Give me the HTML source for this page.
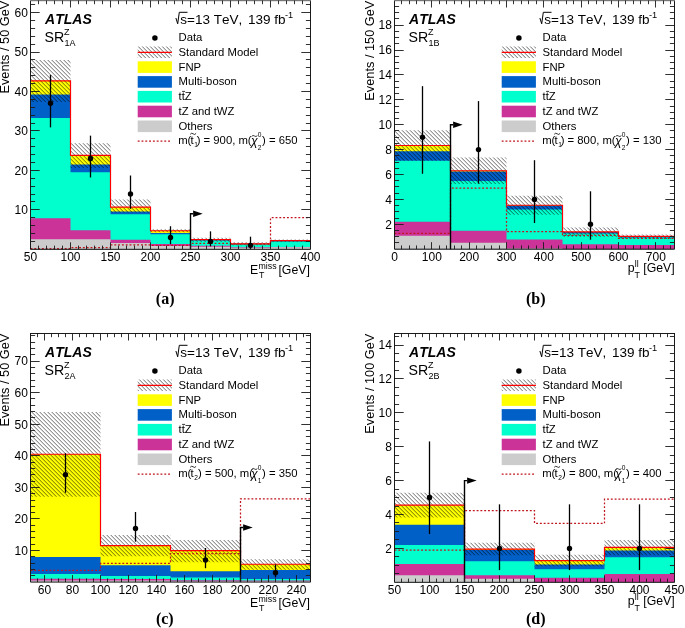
<!DOCTYPE html><html><head><meta charset="utf-8"><style>html,body{margin:0;padding:0;background:#fff}svg{display:block;will-change:transform}text{font-family:"Liberation Sans",sans-serif;fill:#000;font-kerning:none}.cap{font-family:"Liberation Serif",serif;font-weight:bold}</style></head><body>
<svg width="685" height="628" viewBox="0 0 685 628">
<rect width="685" height="628" fill="#fff"/>
<path d="M30.5,249.3 L30.5,80.81 L70.5,80.81 L70.5,155.39 L110.5,155.39 L110.5,207.08 L150.5,207.08 L150.5,230.75 L190.5,230.75 L190.5,239.63 L230.5,239.63 L230.5,243.78 L270.5,243.78 L270.5,240.62 L310.5,240.62 L310.5,249.3 Z" fill="#ffff00"/>
<path d="M30.5,249.3 L30.5,94.62 L70.5,94.62 L70.5,164.46 L110.5,164.46 L110.5,211.42 L150.5,211.42 L150.5,233.12 L190.5,233.12 L190.5,240.03 L230.5,240.03 L230.5,243.97 L270.5,243.97 L270.5,241.01 L310.5,241.01 L310.5,249.3 Z" fill="#0060c8"/>
<path d="M30.5,249.3 L30.5,117.9 L70.5,117.9 L70.5,172.35 L110.5,172.35 L110.5,214.18 L150.5,214.18 L150.5,234.31 L190.5,234.31 L190.5,240.62 L230.5,240.62 L230.5,244.37 L270.5,244.37 L270.5,241.61 L310.5,241.61 L310.5,249.3 Z" fill="#00ffcc"/>
<path d="M30.5,249.3 L30.5,218.32 L70.5,218.32 L70.5,230.36 L110.5,230.36 L110.5,239.63 L150.5,239.63 L150.5,243.97 L190.5,243.97 L190.5,245.75 L230.5,245.75 L230.5,247.13 L270.5,247.13 L270.5,246.93 L310.5,246.93 L310.5,249.3 Z" fill="#cc3399"/>
<path d="M30.5,249.3 L30.5,239.24 L70.5,239.24 L70.5,239.24 L110.5,239.24 L110.5,242.99 L150.5,242.99 L150.5,245.95 L190.5,245.95 L190.5,246.74 L230.5,246.74 L230.5,247.72 L270.5,247.72 L270.5,247.33 L310.5,247.33 L310.5,249.3 Z" fill="#cccccc"/>
<clipPath id="hc1"><rect x="30.5" y="59.89" width="40" height="42.22"/><rect x="70.5" y="143.15" width="40" height="24.86"/><rect x="110.5" y="199.58" width="40" height="13.02"/><rect x="150.5" y="229.18" width="40" height="3.16"/><rect x="190.5" y="237.66" width="40" height="4.14"/><rect x="230.5" y="242.2" width="40" height="3.16"/><rect x="270.5" y="239.44" width="40" height="2.37"/></clipPath>
<g clip-path="url(#hc1)"><path d="M310.59,58.89L311.5,59.8M306.59,58.89L311.5,63.8M302.59,58.89L311.5,67.8M298.59,58.89L311.5,71.8M294.59,58.89L311.5,75.8M290.59,58.89L311.5,79.8M286.59,58.89L311.5,83.8M282.59,58.89L311.5,87.8M278.59,58.89L311.5,91.8M274.59,58.89L311.5,95.8M270.59,58.89L311.5,99.8M266.59,58.89L311.5,103.8M262.59,58.89L311.5,107.8M258.59,58.89L311.5,111.8M254.59,58.89L311.5,115.8M250.59,58.89L311.5,119.8M246.59,58.89L311.5,123.8M242.59,58.89L311.5,127.8M238.59,58.89L311.5,131.8M234.59,58.89L311.5,135.8M230.59,58.89L311.5,139.8M226.59,58.89L311.5,143.8M222.59,58.89L311.5,147.8M218.59,58.89L311.5,151.8M214.59,58.89L311.5,155.8M210.59,58.89L311.5,159.8M206.59,58.89L311.5,163.8M202.59,58.89L311.5,167.8M198.59,58.89L311.5,171.8M194.59,58.89L311.5,175.8M190.59,58.89L311.5,179.8M186.59,58.89L311.5,183.8M182.59,58.89L311.5,187.8M178.59,58.89L311.5,191.8M174.59,58.89L311.5,195.8M170.59,58.89L311.5,199.8M166.59,58.89L311.5,203.8M162.59,58.89L311.5,207.8M158.59,58.89L311.5,211.8M154.59,58.89L311.5,215.8M150.59,58.89L311.5,219.8M146.59,58.89L311.5,223.8M142.59,58.89L311.5,227.8M138.59,58.89L311.5,231.8M134.59,58.89L311.5,235.8M130.59,58.89L311.5,239.8M126.59,58.89L311.5,243.8M122.59,58.89L310.05,246.35M118.59,58.89L306.05,246.35M114.59,58.89L302.05,246.35M110.59,58.89L298.05,246.35M106.59,58.89L294.05,246.35M102.59,58.89L290.05,246.35M98.59,58.89L286.05,246.35M94.59,58.89L282.05,246.35M90.59,58.89L278.05,246.35M86.59,58.89L274.05,246.35M82.59,58.89L270.05,246.35M78.59,58.89L266.05,246.35M74.59,58.89L262.05,246.35M70.59,58.89L258.05,246.35M66.59,58.89L254.05,246.35M62.59,58.89L250.05,246.35M58.59,58.89L246.05,246.35M54.59,58.89L242.05,246.35M50.59,58.89L238.05,246.35M46.59,58.89L234.05,246.35M42.59,58.89L230.05,246.35M38.59,58.89L226.05,246.35M34.59,58.89L222.05,246.35M30.59,58.89L218.05,246.35M29.5,61.8L214.05,246.35M29.5,65.8L210.05,246.35M29.5,69.8L206.05,246.35M29.5,73.8L202.05,246.35M29.5,77.8L198.05,246.35M29.5,81.8L194.05,246.35M29.5,85.8L190.05,246.35M29.5,89.8L186.05,246.35M29.5,93.8L182.05,246.35M29.5,97.8L178.05,246.35M29.5,101.8L174.05,246.35M29.5,105.8L170.05,246.35M29.5,109.8L166.05,246.35M29.5,113.8L162.05,246.35M29.5,117.8L158.05,246.35M29.5,121.8L154.05,246.35M29.5,125.8L150.05,246.35M29.5,129.8L146.05,246.35M29.5,133.8L142.05,246.35M29.5,137.8L138.05,246.35M29.5,141.8L134.05,246.35M29.5,145.8L130.05,246.35M29.5,149.8L126.05,246.35M29.5,153.8L122.05,246.35M29.5,157.8L118.05,246.35M29.5,161.8L114.05,246.35M29.5,165.8L110.05,246.35M29.5,169.8L106.05,246.35M29.5,173.8L102.05,246.35M29.5,177.8L98.05,246.35M29.5,181.8L94.05,246.35M29.5,185.8L90.05,246.35M29.5,189.8L86.05,246.35M29.5,193.8L82.05,246.35M29.5,197.8L78.05,246.35M29.5,201.8L74.05,246.35M29.5,205.8L70.05,246.35M29.5,209.8L66.05,246.35M29.5,213.8L62.05,246.35M29.5,217.8L58.05,246.35M29.5,221.8L54.05,246.35M29.5,225.8L50.05,246.35M29.5,229.8L46.05,246.35M29.5,233.8L42.05,246.35M29.5,237.8L38.05,246.35M29.5,241.8L34.05,246.35M29.5,245.8L30.05,246.35" stroke="#000" stroke-opacity="0.62" stroke-width="0.95" fill="none"/></g>
<path d="M30.5,80.81 L70.5,80.81 L70.5,155.39 L110.5,155.39 L110.5,207.08 L150.5,207.08 L150.5,230.75 L190.5,230.75 L190.5,239.63 L230.5,239.63 L230.5,243.78 L270.5,243.78 L270.5,240.62 L310.5,240.62" fill="none" stroke="#ff0000" stroke-width="1.2"/>
<path d="M30.5,248.51 L70.5,248.51 L70.5,247.72 L110.5,247.72 L110.5,244.96 L150.5,244.96 L150.5,245.35 L190.5,245.35 L190.5,243.38 L230.5,243.38 L230.5,243.78 L270.5,243.78 L270.5,217.73 L310.5,217.73" fill="none" stroke="#c0141e" stroke-width="1.25" stroke-dasharray="1.9,1.9"/>
<path d="M190.5,249.3 L190.5,213.79 L193.1,213.79" fill="none" stroke="#000" stroke-width="1.4"/>
<path d="M193.1,210.59 L202.7,213.79 L193.1,216.99 Z" fill="#000"/>
<line x1="50.5" y1="74.89" x2="50.5" y2="127.37" stroke="#000" stroke-width="1.3"/>
<circle cx="50.5" cy="103.3" r="2.7" fill="#000"/>
<line x1="90.5" y1="135.66" x2="90.5" y2="177.48" stroke="#000" stroke-width="1.3"/>
<circle cx="90.5" cy="158.54" r="2.7" fill="#000"/>
<line x1="130.5" y1="175.51" x2="130.5" y2="208.85" stroke="#000" stroke-width="1.3"/>
<circle cx="130.5" cy="194.06" r="2.7" fill="#000"/>
<line x1="170.5" y1="226.22" x2="170.5" y2="244.17" stroke="#000" stroke-width="1.3"/>
<circle cx="170.5" cy="237.46" r="2.7" fill="#000"/>
<line x1="210.5" y1="231.35" x2="210.5" y2="246.34" stroke="#000" stroke-width="1.3"/>
<circle cx="210.5" cy="241.41" r="2.7" fill="#000"/>
<line x1="250.5" y1="236.67" x2="250.5" y2="249.3" stroke="#000" stroke-width="1.3"/>
<circle cx="250.5" cy="245.35" r="2.7" fill="#000"/>
<path d="M30.5,0 L30.5,249.3 L310.5,249.3" fill="none" stroke="#1a1a1a" stroke-width="1"/>
<path d="M310.5,0 L310.5,249.3" fill="none" stroke="#1a1a1a" stroke-width="1"/>
<rect x="30" y="0" width="281" height="1.2" fill="#777"/>
<line x1="38.5" y1="249.3" x2="38.5" y2="245.6" stroke="#1a1a1a" stroke-width="0.9"/>
<line x1="38.5" y1="0.5" x2="38.5" y2="4.2" stroke="#1a1a1a" stroke-width="0.9"/>
<line x1="46.5" y1="249.3" x2="46.5" y2="245.6" stroke="#1a1a1a" stroke-width="0.9"/>
<line x1="46.5" y1="0.5" x2="46.5" y2="4.2" stroke="#1a1a1a" stroke-width="0.9"/>
<line x1="54.5" y1="249.3" x2="54.5" y2="245.6" stroke="#1a1a1a" stroke-width="0.9"/>
<line x1="54.5" y1="0.5" x2="54.5" y2="4.2" stroke="#1a1a1a" stroke-width="0.9"/>
<line x1="62.5" y1="249.3" x2="62.5" y2="245.6" stroke="#1a1a1a" stroke-width="0.9"/>
<line x1="62.5" y1="0.5" x2="62.5" y2="4.2" stroke="#1a1a1a" stroke-width="0.9"/>
<line x1="70.5" y1="249.3" x2="70.5" y2="242.3" stroke="#1a1a1a" stroke-width="0.9"/>
<line x1="70.5" y1="0.5" x2="70.5" y2="7.5" stroke="#1a1a1a" stroke-width="0.9"/>
<line x1="78.5" y1="249.3" x2="78.5" y2="245.6" stroke="#1a1a1a" stroke-width="0.9"/>
<line x1="78.5" y1="0.5" x2="78.5" y2="4.2" stroke="#1a1a1a" stroke-width="0.9"/>
<line x1="86.5" y1="249.3" x2="86.5" y2="245.6" stroke="#1a1a1a" stroke-width="0.9"/>
<line x1="86.5" y1="0.5" x2="86.5" y2="4.2" stroke="#1a1a1a" stroke-width="0.9"/>
<line x1="94.5" y1="249.3" x2="94.5" y2="245.6" stroke="#1a1a1a" stroke-width="0.9"/>
<line x1="94.5" y1="0.5" x2="94.5" y2="4.2" stroke="#1a1a1a" stroke-width="0.9"/>
<line x1="102.5" y1="249.3" x2="102.5" y2="245.6" stroke="#1a1a1a" stroke-width="0.9"/>
<line x1="102.5" y1="0.5" x2="102.5" y2="4.2" stroke="#1a1a1a" stroke-width="0.9"/>
<line x1="110.5" y1="249.3" x2="110.5" y2="242.3" stroke="#1a1a1a" stroke-width="0.9"/>
<line x1="110.5" y1="0.5" x2="110.5" y2="7.5" stroke="#1a1a1a" stroke-width="0.9"/>
<line x1="118.5" y1="249.3" x2="118.5" y2="245.6" stroke="#1a1a1a" stroke-width="0.9"/>
<line x1="118.5" y1="0.5" x2="118.5" y2="4.2" stroke="#1a1a1a" stroke-width="0.9"/>
<line x1="126.5" y1="249.3" x2="126.5" y2="245.6" stroke="#1a1a1a" stroke-width="0.9"/>
<line x1="126.5" y1="0.5" x2="126.5" y2="4.2" stroke="#1a1a1a" stroke-width="0.9"/>
<line x1="134.5" y1="249.3" x2="134.5" y2="245.6" stroke="#1a1a1a" stroke-width="0.9"/>
<line x1="134.5" y1="0.5" x2="134.5" y2="4.2" stroke="#1a1a1a" stroke-width="0.9"/>
<line x1="142.5" y1="249.3" x2="142.5" y2="245.6" stroke="#1a1a1a" stroke-width="0.9"/>
<line x1="142.5" y1="0.5" x2="142.5" y2="4.2" stroke="#1a1a1a" stroke-width="0.9"/>
<line x1="150.5" y1="249.3" x2="150.5" y2="242.3" stroke="#1a1a1a" stroke-width="0.9"/>
<line x1="150.5" y1="0.5" x2="150.5" y2="7.5" stroke="#1a1a1a" stroke-width="0.9"/>
<line x1="158.5" y1="249.3" x2="158.5" y2="245.6" stroke="#1a1a1a" stroke-width="0.9"/>
<line x1="158.5" y1="0.5" x2="158.5" y2="4.2" stroke="#1a1a1a" stroke-width="0.9"/>
<line x1="166.5" y1="249.3" x2="166.5" y2="245.6" stroke="#1a1a1a" stroke-width="0.9"/>
<line x1="166.5" y1="0.5" x2="166.5" y2="4.2" stroke="#1a1a1a" stroke-width="0.9"/>
<line x1="174.5" y1="249.3" x2="174.5" y2="245.6" stroke="#1a1a1a" stroke-width="0.9"/>
<line x1="174.5" y1="0.5" x2="174.5" y2="4.2" stroke="#1a1a1a" stroke-width="0.9"/>
<line x1="182.5" y1="249.3" x2="182.5" y2="245.6" stroke="#1a1a1a" stroke-width="0.9"/>
<line x1="182.5" y1="0.5" x2="182.5" y2="4.2" stroke="#1a1a1a" stroke-width="0.9"/>
<line x1="190.5" y1="249.3" x2="190.5" y2="242.3" stroke="#1a1a1a" stroke-width="0.9"/>
<line x1="190.5" y1="0.5" x2="190.5" y2="7.5" stroke="#1a1a1a" stroke-width="0.9"/>
<line x1="198.5" y1="249.3" x2="198.5" y2="245.6" stroke="#1a1a1a" stroke-width="0.9"/>
<line x1="198.5" y1="0.5" x2="198.5" y2="4.2" stroke="#1a1a1a" stroke-width="0.9"/>
<line x1="206.5" y1="249.3" x2="206.5" y2="245.6" stroke="#1a1a1a" stroke-width="0.9"/>
<line x1="206.5" y1="0.5" x2="206.5" y2="4.2" stroke="#1a1a1a" stroke-width="0.9"/>
<line x1="214.5" y1="249.3" x2="214.5" y2="245.6" stroke="#1a1a1a" stroke-width="0.9"/>
<line x1="214.5" y1="0.5" x2="214.5" y2="4.2" stroke="#1a1a1a" stroke-width="0.9"/>
<line x1="222.5" y1="249.3" x2="222.5" y2="245.6" stroke="#1a1a1a" stroke-width="0.9"/>
<line x1="222.5" y1="0.5" x2="222.5" y2="4.2" stroke="#1a1a1a" stroke-width="0.9"/>
<line x1="230.5" y1="249.3" x2="230.5" y2="242.3" stroke="#1a1a1a" stroke-width="0.9"/>
<line x1="230.5" y1="0.5" x2="230.5" y2="7.5" stroke="#1a1a1a" stroke-width="0.9"/>
<line x1="238.5" y1="249.3" x2="238.5" y2="245.6" stroke="#1a1a1a" stroke-width="0.9"/>
<line x1="238.5" y1="0.5" x2="238.5" y2="4.2" stroke="#1a1a1a" stroke-width="0.9"/>
<line x1="246.5" y1="249.3" x2="246.5" y2="245.6" stroke="#1a1a1a" stroke-width="0.9"/>
<line x1="246.5" y1="0.5" x2="246.5" y2="4.2" stroke="#1a1a1a" stroke-width="0.9"/>
<line x1="254.5" y1="249.3" x2="254.5" y2="245.6" stroke="#1a1a1a" stroke-width="0.9"/>
<line x1="254.5" y1="0.5" x2="254.5" y2="4.2" stroke="#1a1a1a" stroke-width="0.9"/>
<line x1="262.5" y1="249.3" x2="262.5" y2="245.6" stroke="#1a1a1a" stroke-width="0.9"/>
<line x1="262.5" y1="0.5" x2="262.5" y2="4.2" stroke="#1a1a1a" stroke-width="0.9"/>
<line x1="270.5" y1="249.3" x2="270.5" y2="242.3" stroke="#1a1a1a" stroke-width="0.9"/>
<line x1="270.5" y1="0.5" x2="270.5" y2="7.5" stroke="#1a1a1a" stroke-width="0.9"/>
<line x1="278.5" y1="249.3" x2="278.5" y2="245.6" stroke="#1a1a1a" stroke-width="0.9"/>
<line x1="278.5" y1="0.5" x2="278.5" y2="4.2" stroke="#1a1a1a" stroke-width="0.9"/>
<line x1="286.5" y1="249.3" x2="286.5" y2="245.6" stroke="#1a1a1a" stroke-width="0.9"/>
<line x1="286.5" y1="0.5" x2="286.5" y2="4.2" stroke="#1a1a1a" stroke-width="0.9"/>
<line x1="294.5" y1="249.3" x2="294.5" y2="245.6" stroke="#1a1a1a" stroke-width="0.9"/>
<line x1="294.5" y1="0.5" x2="294.5" y2="4.2" stroke="#1a1a1a" stroke-width="0.9"/>
<line x1="302.5" y1="249.3" x2="302.5" y2="245.6" stroke="#1a1a1a" stroke-width="0.9"/>
<line x1="302.5" y1="0.5" x2="302.5" y2="4.2" stroke="#1a1a1a" stroke-width="0.9"/>
<line x1="30.5" y1="241.5" x2="35.1" y2="241.5" stroke="#1a1a1a" stroke-width="0.9"/>
<line x1="310.5" y1="241.5" x2="305.9" y2="241.5" stroke="#1a1a1a" stroke-width="0.9"/>
<line x1="30.5" y1="233.5" x2="35.1" y2="233.5" stroke="#1a1a1a" stroke-width="0.9"/>
<line x1="310.5" y1="233.5" x2="305.9" y2="233.5" stroke="#1a1a1a" stroke-width="0.9"/>
<line x1="30.5" y1="225.5" x2="35.1" y2="225.5" stroke="#1a1a1a" stroke-width="0.9"/>
<line x1="310.5" y1="225.5" x2="305.9" y2="225.5" stroke="#1a1a1a" stroke-width="0.9"/>
<line x1="30.5" y1="217.5" x2="35.1" y2="217.5" stroke="#1a1a1a" stroke-width="0.9"/>
<line x1="310.5" y1="217.5" x2="305.9" y2="217.5" stroke="#1a1a1a" stroke-width="0.9"/>
<line x1="30.5" y1="209.5" x2="39.7" y2="209.5" stroke="#1a1a1a" stroke-width="0.9"/>
<line x1="310.5" y1="209.5" x2="301.3" y2="209.5" stroke="#1a1a1a" stroke-width="0.9"/>
<line x1="30.5" y1="201.5" x2="35.1" y2="201.5" stroke="#1a1a1a" stroke-width="0.9"/>
<line x1="310.5" y1="201.5" x2="305.9" y2="201.5" stroke="#1a1a1a" stroke-width="0.9"/>
<line x1="30.5" y1="194.5" x2="35.1" y2="194.5" stroke="#1a1a1a" stroke-width="0.9"/>
<line x1="310.5" y1="194.5" x2="305.9" y2="194.5" stroke="#1a1a1a" stroke-width="0.9"/>
<line x1="30.5" y1="186.5" x2="35.1" y2="186.5" stroke="#1a1a1a" stroke-width="0.9"/>
<line x1="310.5" y1="186.5" x2="305.9" y2="186.5" stroke="#1a1a1a" stroke-width="0.9"/>
<line x1="30.5" y1="178.5" x2="35.1" y2="178.5" stroke="#1a1a1a" stroke-width="0.9"/>
<line x1="310.5" y1="178.5" x2="305.9" y2="178.5" stroke="#1a1a1a" stroke-width="0.9"/>
<line x1="30.5" y1="170.5" x2="39.7" y2="170.5" stroke="#1a1a1a" stroke-width="0.9"/>
<line x1="310.5" y1="170.5" x2="301.3" y2="170.5" stroke="#1a1a1a" stroke-width="0.9"/>
<line x1="30.5" y1="162.5" x2="35.1" y2="162.5" stroke="#1a1a1a" stroke-width="0.9"/>
<line x1="310.5" y1="162.5" x2="305.9" y2="162.5" stroke="#1a1a1a" stroke-width="0.9"/>
<line x1="30.5" y1="154.5" x2="35.1" y2="154.5" stroke="#1a1a1a" stroke-width="0.9"/>
<line x1="310.5" y1="154.5" x2="305.9" y2="154.5" stroke="#1a1a1a" stroke-width="0.9"/>
<line x1="30.5" y1="146.5" x2="35.1" y2="146.5" stroke="#1a1a1a" stroke-width="0.9"/>
<line x1="310.5" y1="146.5" x2="305.9" y2="146.5" stroke="#1a1a1a" stroke-width="0.9"/>
<line x1="30.5" y1="138.5" x2="35.1" y2="138.5" stroke="#1a1a1a" stroke-width="0.9"/>
<line x1="310.5" y1="138.5" x2="305.9" y2="138.5" stroke="#1a1a1a" stroke-width="0.9"/>
<line x1="30.5" y1="130.5" x2="39.7" y2="130.5" stroke="#1a1a1a" stroke-width="0.9"/>
<line x1="310.5" y1="130.5" x2="301.3" y2="130.5" stroke="#1a1a1a" stroke-width="0.9"/>
<line x1="30.5" y1="123.5" x2="35.1" y2="123.5" stroke="#1a1a1a" stroke-width="0.9"/>
<line x1="310.5" y1="123.5" x2="305.9" y2="123.5" stroke="#1a1a1a" stroke-width="0.9"/>
<line x1="30.5" y1="115.5" x2="35.1" y2="115.5" stroke="#1a1a1a" stroke-width="0.9"/>
<line x1="310.5" y1="115.5" x2="305.9" y2="115.5" stroke="#1a1a1a" stroke-width="0.9"/>
<line x1="30.5" y1="107.5" x2="35.1" y2="107.5" stroke="#1a1a1a" stroke-width="0.9"/>
<line x1="310.5" y1="107.5" x2="305.9" y2="107.5" stroke="#1a1a1a" stroke-width="0.9"/>
<line x1="30.5" y1="99.5" x2="35.1" y2="99.5" stroke="#1a1a1a" stroke-width="0.9"/>
<line x1="310.5" y1="99.5" x2="305.9" y2="99.5" stroke="#1a1a1a" stroke-width="0.9"/>
<line x1="30.5" y1="91.5" x2="39.7" y2="91.5" stroke="#1a1a1a" stroke-width="0.9"/>
<line x1="310.5" y1="91.5" x2="301.3" y2="91.5" stroke="#1a1a1a" stroke-width="0.9"/>
<line x1="30.5" y1="83.5" x2="35.1" y2="83.5" stroke="#1a1a1a" stroke-width="0.9"/>
<line x1="310.5" y1="83.5" x2="305.9" y2="83.5" stroke="#1a1a1a" stroke-width="0.9"/>
<line x1="30.5" y1="75.5" x2="35.1" y2="75.5" stroke="#1a1a1a" stroke-width="0.9"/>
<line x1="310.5" y1="75.5" x2="305.9" y2="75.5" stroke="#1a1a1a" stroke-width="0.9"/>
<line x1="30.5" y1="67.5" x2="35.1" y2="67.5" stroke="#1a1a1a" stroke-width="0.9"/>
<line x1="310.5" y1="67.5" x2="305.9" y2="67.5" stroke="#1a1a1a" stroke-width="0.9"/>
<line x1="30.5" y1="59.5" x2="35.1" y2="59.5" stroke="#1a1a1a" stroke-width="0.9"/>
<line x1="310.5" y1="59.5" x2="305.9" y2="59.5" stroke="#1a1a1a" stroke-width="0.9"/>
<line x1="30.5" y1="52.5" x2="39.7" y2="52.5" stroke="#1a1a1a" stroke-width="0.9"/>
<line x1="310.5" y1="52.5" x2="301.3" y2="52.5" stroke="#1a1a1a" stroke-width="0.9"/>
<line x1="30.5" y1="44.5" x2="35.1" y2="44.5" stroke="#1a1a1a" stroke-width="0.9"/>
<line x1="310.5" y1="44.5" x2="305.9" y2="44.5" stroke="#1a1a1a" stroke-width="0.9"/>
<line x1="30.5" y1="36.5" x2="35.1" y2="36.5" stroke="#1a1a1a" stroke-width="0.9"/>
<line x1="310.5" y1="36.5" x2="305.9" y2="36.5" stroke="#1a1a1a" stroke-width="0.9"/>
<line x1="30.5" y1="28.5" x2="35.1" y2="28.5" stroke="#1a1a1a" stroke-width="0.9"/>
<line x1="310.5" y1="28.5" x2="305.9" y2="28.5" stroke="#1a1a1a" stroke-width="0.9"/>
<line x1="30.5" y1="20.5" x2="35.1" y2="20.5" stroke="#1a1a1a" stroke-width="0.9"/>
<line x1="310.5" y1="20.5" x2="305.9" y2="20.5" stroke="#1a1a1a" stroke-width="0.9"/>
<line x1="30.5" y1="12.5" x2="39.7" y2="12.5" stroke="#1a1a1a" stroke-width="0.9"/>
<line x1="310.5" y1="12.5" x2="301.3" y2="12.5" stroke="#1a1a1a" stroke-width="0.9"/>
<line x1="30.5" y1="4.5" x2="35.1" y2="4.5" stroke="#1a1a1a" stroke-width="0.9"/>
<line x1="310.5" y1="4.5" x2="305.9" y2="4.5" stroke="#1a1a1a" stroke-width="0.9"/>
<text x="30.5" y="260.9" font-size="12" text-anchor="middle">50</text>
<text x="70.5" y="260.9" font-size="12" text-anchor="middle">100</text>
<text x="110.5" y="260.9" font-size="12" text-anchor="middle">150</text>
<text x="150.5" y="260.9" font-size="12" text-anchor="middle">200</text>
<text x="190.5" y="260.9" font-size="12" text-anchor="middle">250</text>
<text x="230.5" y="260.9" font-size="12" text-anchor="middle">300</text>
<text x="270.5" y="260.9" font-size="12" text-anchor="middle">350</text>
<text x="310.5" y="260.9" font-size="12" text-anchor="middle">400</text>
<text x="27.9" y="214.14" font-size="12" text-anchor="end">10</text>
<text x="27.9" y="174.68" font-size="12" text-anchor="end">20</text>
<text x="27.9" y="135.22" font-size="12" text-anchor="end">30</text>
<text x="27.9" y="95.76" font-size="12" text-anchor="end">40</text>
<text x="27.9" y="56.3" font-size="12" text-anchor="end">50</text>
<text x="27.9" y="16.84" font-size="12" text-anchor="end">60</text>
<text transform="translate(9,0.7) rotate(-90)" font-size="12.75" text-anchor="end">Events / 50 GeV</text>
<text x="249.9" y="274.2" font-size="12.3">E</text>
<text x="258.5" y="268.7" font-size="8.8">miss</text>
<text x="258.9" y="277.9" font-size="8.8">T</text>
<text x="309.9" y="274.2" font-size="12.3" text-anchor="end">[GeV]</text>
<text x="45.1" y="24.2" font-size="14" font-weight="bold" font-style="italic">ATLAS</text>
<text x="44.5" y="41.7" font-size="14.2">SR</text>
<text x="63.9" y="34.8" font-size="9">Z</text>
<text x="64.5" y="46.1" font-size="9">1A</text>
<path d="M175.9,18 L177.7,23.8 L179.3,12.3 L187.5,12.3" fill="none" stroke="#000" stroke-width="1"/>
<text x="180.3" y="24" font-size="13.5">s=13 TeV,</text>
<text x="247.9" y="24" font-size="13.5">139 fb</text>
<text x="284.9" y="18.3" font-size="9.2">-1</text>
<circle cx="154.9" cy="37.9" r="2.75" fill="#000"/>
<text x="178.5" y="41" font-size="11.3">Data</text>
<clipPath id="hc2"><rect x="137.7" y="46.5" width="34.2" height="11.6"/></clipPath>
<g clip-path="url(#hc2)"><path d="M169.2,45.5L172.9,49.2M165.2,45.5L172.9,53.2M161.2,45.5L172.9,57.2M157.2,45.5L170.8,59.1M153.2,45.5L166.8,59.1M149.2,45.5L162.8,59.1M145.2,45.5L158.8,59.1M141.2,45.5L154.8,59.1M137.2,45.5L150.8,59.1M136.7,49L146.8,59.1M136.7,53L142.8,59.1M136.7,57L138.8,59.1" stroke="#000" stroke-opacity="0.62" stroke-width="0.95" fill="none"/></g>
<line x1="137.7" y1="52.3" x2="171.9" y2="52.3" stroke="#ff0000" stroke-width="1.2"/>
<text x="178.5" y="55.7" font-size="11.3">Standard Model</text>
<rect x="137.7" y="61.3" width="34.2" height="11.6" fill="#ffff00"/>
<text x="178.5" y="70.5" font-size="11.3">FNP</text>
<rect x="137.7" y="76.1" width="34.2" height="11.6" fill="#0060c8"/>
<text x="178.5" y="85.3" font-size="11.3">Multi-boson</text>
<rect x="137.7" y="90.9" width="34.2" height="11.6" fill="#00ffcc"/>
<text x="178.5" y="100.1" font-size="11.3">tt<tspan>Z</tspan></text>
<line x1="182.1" y1="91.4" x2="185.1" y2="91.4" stroke="#000" stroke-width="0.8"/>
<rect x="137.7" y="105.7" width="34.2" height="11.6" fill="#cc3399"/>
<text x="178.5" y="114.9" font-size="11.3">tZ and tWZ</text>
<rect x="137.7" y="120.5" width="34.2" height="11.6" fill="#cccccc"/>
<text x="178.5" y="129.7" font-size="11.3">Others</text>
<line x1="137.7" y1="141.1" x2="171.9" y2="141.1" stroke="#c0141e" stroke-width="1.25" stroke-dasharray="1.9,1.9"/>
<text x="178.2" y="144.3" font-size="11.3">m(</text>
<text x="190.4" y="144.3" font-size="11.3">t</text>
<path d="M190.2,134.3 q1.5,-1.9 3,-0.45 t2.9,-0.45" fill="none" stroke="#000" stroke-width="0.8"/>
<text x="194.2" y="147.2" font-size="6.6">1</text>
<text x="196.7" y="144.3" font-size="11.3">) = 900, m(</text>
<text x="251" y="145.2" font-size="12.2" font-style="italic">&#967;</text>
<path d="M251.6,136.4 q1.4,-1.7 2.9,-0.4 t2.9,-0.4" fill="none" stroke="#000" stroke-width="0.75"/>
<text x="257.8" y="137.4" font-size="6.6">0</text>
<text x="257.8" y="149.5" font-size="6.6">2</text>
<text x="262.1" y="144.3" font-size="11.3">) = 650</text>
<path d="M394.5,249.15 L394.5,145.51 L450.5,145.51 L450.5,170.77 L506.5,170.77 L506.5,205.23 L562.5,205.23 L562.5,231.86 L618.5,231.86 L618.5,236.46 L674.5,236.46 L674.5,249.15 Z" fill="#ffff00"/>
<path d="M394.5,249.15 L394.5,151.23 L450.5,151.23 L450.5,171.39 L506.5,171.39 L506.5,205.6 L562.5,205.6 L562.5,232.1 L618.5,232.1 L618.5,236.71 L674.5,236.71 L674.5,249.15 Z" fill="#0060c8"/>
<path d="M394.5,249.15 L394.5,160.81 L450.5,160.81 L450.5,181.09 L506.5,181.09 L506.5,209.46 L562.5,209.46 L562.5,233.6 L618.5,233.6 L618.5,237.58 L674.5,237.58 L674.5,249.15 Z" fill="#00ffcc"/>
<path d="M394.5,249.15 L394.5,221.78 L450.5,221.78 L450.5,230.74 L506.5,230.74 L506.5,239.57 L562.5,239.57 L562.5,244.3 L618.5,244.3 L618.5,244.92 L674.5,244.92 L674.5,249.15 Z" fill="#cc3399"/>
<path d="M394.5,249.15 L394.5,235.84 L450.5,235.84 L450.5,242.68 L506.5,242.68 L506.5,248.53 L562.5,248.53 L562.5,249.15 L618.5,249.15 L618.5,249.15 L674.5,249.15 L674.5,249.15 Z" fill="#cccccc"/>
<clipPath id="hc3"><rect x="394.5" y="130.33" width="56" height="30.48"/><rect x="450.5" y="157.45" width="56" height="26.5"/><rect x="506.5" y="195.77" width="56" height="19.04"/><rect x="562.5" y="227.5" width="56" height="9.21"/><rect x="618.5" y="234.47" width="56" height="4.48"/></clipPath>
<g clip-path="url(#hc3)"><path d="M673.03,129.33L675.5,131.8M669.03,129.33L675.5,135.8M665.03,129.33L675.5,139.8M661.03,129.33L675.5,143.8M657.03,129.33L675.5,147.8M653.03,129.33L675.5,151.8M649.03,129.33L675.5,155.8M645.03,129.33L675.5,159.8M641.03,129.33L675.5,163.8M637.03,129.33L675.5,167.8M633.03,129.33L675.5,171.8M629.03,129.33L675.5,175.8M625.03,129.33L675.5,179.8M621.03,129.33L675.5,183.8M617.03,129.33L675.5,187.8M613.03,129.33L675.5,191.8M609.03,129.33L675.5,195.8M605.03,129.33L675.5,199.8M601.03,129.33L675.5,203.8M597.03,129.33L675.5,207.8M593.03,129.33L675.5,211.8M589.03,129.33L675.5,215.8M585.03,129.33L675.5,219.8M581.03,129.33L675.5,223.8M577.03,129.33L675.5,227.8M573.03,129.33L675.5,231.8M569.03,129.33L675.5,235.8M565.03,129.33L675.5,239.8M561.03,129.33L671.65,239.95M557.03,129.33L667.65,239.95M553.03,129.33L663.65,239.95M549.03,129.33L659.65,239.95M545.03,129.33L655.65,239.95M541.03,129.33L651.65,239.95M537.03,129.33L647.65,239.95M533.03,129.33L643.65,239.95M529.03,129.33L639.65,239.95M525.03,129.33L635.65,239.95M521.03,129.33L631.65,239.95M517.03,129.33L627.65,239.95M513.03,129.33L623.65,239.95M509.03,129.33L619.65,239.95M505.03,129.33L615.65,239.95M501.03,129.33L611.65,239.95M497.03,129.33L607.65,239.95M493.03,129.33L603.65,239.95M489.03,129.33L599.65,239.95M485.03,129.33L595.65,239.95M481.03,129.33L591.65,239.95M477.03,129.33L587.65,239.95M473.03,129.33L583.65,239.95M469.03,129.33L579.65,239.95M465.03,129.33L575.65,239.95M461.03,129.33L571.65,239.95M457.03,129.33L567.65,239.95M453.03,129.33L563.65,239.95M449.03,129.33L559.65,239.95M445.03,129.33L555.65,239.95M441.03,129.33L551.65,239.95M437.03,129.33L547.65,239.95M433.03,129.33L543.65,239.95M429.03,129.33L539.65,239.95M425.03,129.33L535.65,239.95M421.03,129.33L531.65,239.95M417.03,129.33L527.65,239.95M413.03,129.33L523.65,239.95M409.03,129.33L519.65,239.95M405.03,129.33L515.65,239.95M401.03,129.33L511.65,239.95M397.03,129.33L507.65,239.95M393.5,129.8L503.65,239.95M393.5,133.8L499.65,239.95M393.5,137.8L495.65,239.95M393.5,141.8L491.65,239.95M393.5,145.8L487.65,239.95M393.5,149.8L483.65,239.95M393.5,153.8L479.65,239.95M393.5,157.8L475.65,239.95M393.5,161.8L471.65,239.95M393.5,165.8L467.65,239.95M393.5,169.8L463.65,239.95M393.5,173.8L459.65,239.95M393.5,177.8L455.65,239.95M393.5,181.8L451.65,239.95M393.5,185.8L447.65,239.95M393.5,189.8L443.65,239.95M393.5,193.8L439.65,239.95M393.5,197.8L435.65,239.95M393.5,201.8L431.65,239.95M393.5,205.8L427.65,239.95M393.5,209.8L423.65,239.95M393.5,213.8L419.65,239.95M393.5,217.8L415.65,239.95M393.5,221.8L411.65,239.95M393.5,225.8L407.65,239.95M393.5,229.8L403.65,239.95M393.5,233.8L399.65,239.95M393.5,237.8L395.65,239.95" stroke="#000" stroke-opacity="0.62" stroke-width="0.95" fill="none"/></g>
<path d="M394.5,145.51 L450.5,145.51 L450.5,170.77 L506.5,170.77 L506.5,205.23 L562.5,205.23 L562.5,231.86 L618.5,231.86 L618.5,236.46 L674.5,236.46" fill="none" stroke="#ff0000" stroke-width="1.2"/>
<path d="M394.5,233.47 L450.5,233.47 L450.5,188.18 L506.5,188.18 L506.5,231.73 L562.5,231.73 L562.5,235.46 L618.5,235.46 L618.5,238.33 L674.5,238.33" fill="none" stroke="#c0141e" stroke-width="1.25" stroke-dasharray="1.9,1.9"/>
<path d="M450.5,249.15 L450.5,124.73 L453.1,124.73" fill="none" stroke="#000" stroke-width="1.4"/>
<path d="M453.1,121.53 L462.7,124.73 L453.1,127.93 Z" fill="#000"/>
<line x1="422.5" y1="86.16" x2="422.5" y2="173.75" stroke="#000" stroke-width="1.3"/>
<circle cx="422.5" cy="137.17" r="2.7" fill="#000"/>
<line x1="478.5" y1="101.09" x2="478.5" y2="183.58" stroke="#000" stroke-width="1.3"/>
<circle cx="478.5" cy="149.61" r="2.7" fill="#000"/>
<line x1="534.5" y1="160.19" x2="534.5" y2="223.02" stroke="#000" stroke-width="1.3"/>
<circle cx="534.5" cy="199.38" r="2.7" fill="#000"/>
<line x1="590.5" y1="191.29" x2="590.5" y2="239.69" stroke="#000" stroke-width="1.3"/>
<circle cx="590.5" cy="224.27" r="2.7" fill="#000"/>
<path d="M394.5,0 L394.5,249.15 L674.5,249.15" fill="none" stroke="#1a1a1a" stroke-width="1"/>
<path d="M674.5,0 L674.5,249.15" fill="none" stroke="#1a1a1a" stroke-width="1"/>
<rect x="394" y="0" width="281" height="1.2" fill="#777"/>
<line x1="401.5" y1="249.15" x2="401.5" y2="245.45" stroke="#1a1a1a" stroke-width="0.9"/>
<line x1="401.5" y1="0.5" x2="401.5" y2="4.2" stroke="#1a1a1a" stroke-width="0.9"/>
<line x1="409.5" y1="249.15" x2="409.5" y2="245.45" stroke="#1a1a1a" stroke-width="0.9"/>
<line x1="409.5" y1="0.5" x2="409.5" y2="4.2" stroke="#1a1a1a" stroke-width="0.9"/>
<line x1="416.5" y1="249.15" x2="416.5" y2="245.45" stroke="#1a1a1a" stroke-width="0.9"/>
<line x1="416.5" y1="0.5" x2="416.5" y2="4.2" stroke="#1a1a1a" stroke-width="0.9"/>
<line x1="424.5" y1="249.15" x2="424.5" y2="245.45" stroke="#1a1a1a" stroke-width="0.9"/>
<line x1="424.5" y1="0.5" x2="424.5" y2="4.2" stroke="#1a1a1a" stroke-width="0.9"/>
<line x1="431.5" y1="249.15" x2="431.5" y2="242.15" stroke="#1a1a1a" stroke-width="0.9"/>
<line x1="431.5" y1="0.5" x2="431.5" y2="7.5" stroke="#1a1a1a" stroke-width="0.9"/>
<line x1="439.5" y1="249.15" x2="439.5" y2="245.45" stroke="#1a1a1a" stroke-width="0.9"/>
<line x1="439.5" y1="0.5" x2="439.5" y2="4.2" stroke="#1a1a1a" stroke-width="0.9"/>
<line x1="446.5" y1="249.15" x2="446.5" y2="245.45" stroke="#1a1a1a" stroke-width="0.9"/>
<line x1="446.5" y1="0.5" x2="446.5" y2="4.2" stroke="#1a1a1a" stroke-width="0.9"/>
<line x1="454.5" y1="249.15" x2="454.5" y2="245.45" stroke="#1a1a1a" stroke-width="0.9"/>
<line x1="454.5" y1="0.5" x2="454.5" y2="4.2" stroke="#1a1a1a" stroke-width="0.9"/>
<line x1="461.5" y1="249.15" x2="461.5" y2="245.45" stroke="#1a1a1a" stroke-width="0.9"/>
<line x1="461.5" y1="0.5" x2="461.5" y2="4.2" stroke="#1a1a1a" stroke-width="0.9"/>
<line x1="469.5" y1="249.15" x2="469.5" y2="242.15" stroke="#1a1a1a" stroke-width="0.9"/>
<line x1="469.5" y1="0.5" x2="469.5" y2="7.5" stroke="#1a1a1a" stroke-width="0.9"/>
<line x1="476.5" y1="249.15" x2="476.5" y2="245.45" stroke="#1a1a1a" stroke-width="0.9"/>
<line x1="476.5" y1="0.5" x2="476.5" y2="4.2" stroke="#1a1a1a" stroke-width="0.9"/>
<line x1="484.5" y1="249.15" x2="484.5" y2="245.45" stroke="#1a1a1a" stroke-width="0.9"/>
<line x1="484.5" y1="0.5" x2="484.5" y2="4.2" stroke="#1a1a1a" stroke-width="0.9"/>
<line x1="491.5" y1="249.15" x2="491.5" y2="245.45" stroke="#1a1a1a" stroke-width="0.9"/>
<line x1="491.5" y1="0.5" x2="491.5" y2="4.2" stroke="#1a1a1a" stroke-width="0.9"/>
<line x1="499.5" y1="249.15" x2="499.5" y2="245.45" stroke="#1a1a1a" stroke-width="0.9"/>
<line x1="499.5" y1="0.5" x2="499.5" y2="4.2" stroke="#1a1a1a" stroke-width="0.9"/>
<line x1="506.5" y1="249.15" x2="506.5" y2="242.15" stroke="#1a1a1a" stroke-width="0.9"/>
<line x1="506.5" y1="0.5" x2="506.5" y2="7.5" stroke="#1a1a1a" stroke-width="0.9"/>
<line x1="513.5" y1="249.15" x2="513.5" y2="245.45" stroke="#1a1a1a" stroke-width="0.9"/>
<line x1="513.5" y1="0.5" x2="513.5" y2="4.2" stroke="#1a1a1a" stroke-width="0.9"/>
<line x1="521.5" y1="249.15" x2="521.5" y2="245.45" stroke="#1a1a1a" stroke-width="0.9"/>
<line x1="521.5" y1="0.5" x2="521.5" y2="4.2" stroke="#1a1a1a" stroke-width="0.9"/>
<line x1="528.5" y1="249.15" x2="528.5" y2="245.45" stroke="#1a1a1a" stroke-width="0.9"/>
<line x1="528.5" y1="0.5" x2="528.5" y2="4.2" stroke="#1a1a1a" stroke-width="0.9"/>
<line x1="536.5" y1="249.15" x2="536.5" y2="245.45" stroke="#1a1a1a" stroke-width="0.9"/>
<line x1="536.5" y1="0.5" x2="536.5" y2="4.2" stroke="#1a1a1a" stroke-width="0.9"/>
<line x1="543.5" y1="249.15" x2="543.5" y2="242.15" stroke="#1a1a1a" stroke-width="0.9"/>
<line x1="543.5" y1="0.5" x2="543.5" y2="7.5" stroke="#1a1a1a" stroke-width="0.9"/>
<line x1="551.5" y1="249.15" x2="551.5" y2="245.45" stroke="#1a1a1a" stroke-width="0.9"/>
<line x1="551.5" y1="0.5" x2="551.5" y2="4.2" stroke="#1a1a1a" stroke-width="0.9"/>
<line x1="558.5" y1="249.15" x2="558.5" y2="245.45" stroke="#1a1a1a" stroke-width="0.9"/>
<line x1="558.5" y1="0.5" x2="558.5" y2="4.2" stroke="#1a1a1a" stroke-width="0.9"/>
<line x1="566.5" y1="249.15" x2="566.5" y2="245.45" stroke="#1a1a1a" stroke-width="0.9"/>
<line x1="566.5" y1="0.5" x2="566.5" y2="4.2" stroke="#1a1a1a" stroke-width="0.9"/>
<line x1="573.5" y1="249.15" x2="573.5" y2="245.45" stroke="#1a1a1a" stroke-width="0.9"/>
<line x1="573.5" y1="0.5" x2="573.5" y2="4.2" stroke="#1a1a1a" stroke-width="0.9"/>
<line x1="581.5" y1="249.15" x2="581.5" y2="242.15" stroke="#1a1a1a" stroke-width="0.9"/>
<line x1="581.5" y1="0.5" x2="581.5" y2="7.5" stroke="#1a1a1a" stroke-width="0.9"/>
<line x1="588.5" y1="249.15" x2="588.5" y2="245.45" stroke="#1a1a1a" stroke-width="0.9"/>
<line x1="588.5" y1="0.5" x2="588.5" y2="4.2" stroke="#1a1a1a" stroke-width="0.9"/>
<line x1="596.5" y1="249.15" x2="596.5" y2="245.45" stroke="#1a1a1a" stroke-width="0.9"/>
<line x1="596.5" y1="0.5" x2="596.5" y2="4.2" stroke="#1a1a1a" stroke-width="0.9"/>
<line x1="603.5" y1="249.15" x2="603.5" y2="245.45" stroke="#1a1a1a" stroke-width="0.9"/>
<line x1="603.5" y1="0.5" x2="603.5" y2="4.2" stroke="#1a1a1a" stroke-width="0.9"/>
<line x1="611.5" y1="249.15" x2="611.5" y2="245.45" stroke="#1a1a1a" stroke-width="0.9"/>
<line x1="611.5" y1="0.5" x2="611.5" y2="4.2" stroke="#1a1a1a" stroke-width="0.9"/>
<line x1="618.5" y1="249.15" x2="618.5" y2="242.15" stroke="#1a1a1a" stroke-width="0.9"/>
<line x1="618.5" y1="0.5" x2="618.5" y2="7.5" stroke="#1a1a1a" stroke-width="0.9"/>
<line x1="625.5" y1="249.15" x2="625.5" y2="245.45" stroke="#1a1a1a" stroke-width="0.9"/>
<line x1="625.5" y1="0.5" x2="625.5" y2="4.2" stroke="#1a1a1a" stroke-width="0.9"/>
<line x1="633.5" y1="249.15" x2="633.5" y2="245.45" stroke="#1a1a1a" stroke-width="0.9"/>
<line x1="633.5" y1="0.5" x2="633.5" y2="4.2" stroke="#1a1a1a" stroke-width="0.9"/>
<line x1="640.5" y1="249.15" x2="640.5" y2="245.45" stroke="#1a1a1a" stroke-width="0.9"/>
<line x1="640.5" y1="0.5" x2="640.5" y2="4.2" stroke="#1a1a1a" stroke-width="0.9"/>
<line x1="648.5" y1="249.15" x2="648.5" y2="245.45" stroke="#1a1a1a" stroke-width="0.9"/>
<line x1="648.5" y1="0.5" x2="648.5" y2="4.2" stroke="#1a1a1a" stroke-width="0.9"/>
<line x1="655.5" y1="249.15" x2="655.5" y2="242.15" stroke="#1a1a1a" stroke-width="0.9"/>
<line x1="655.5" y1="0.5" x2="655.5" y2="7.5" stroke="#1a1a1a" stroke-width="0.9"/>
<line x1="663.5" y1="249.15" x2="663.5" y2="245.45" stroke="#1a1a1a" stroke-width="0.9"/>
<line x1="663.5" y1="0.5" x2="663.5" y2="4.2" stroke="#1a1a1a" stroke-width="0.9"/>
<line x1="670.5" y1="249.15" x2="670.5" y2="245.45" stroke="#1a1a1a" stroke-width="0.9"/>
<line x1="670.5" y1="0.5" x2="670.5" y2="4.2" stroke="#1a1a1a" stroke-width="0.9"/>
<line x1="394.5" y1="242.5" x2="399.1" y2="242.5" stroke="#1a1a1a" stroke-width="0.9"/>
<line x1="674.5" y1="242.5" x2="669.9" y2="242.5" stroke="#1a1a1a" stroke-width="0.9"/>
<line x1="394.5" y1="236.5" x2="399.1" y2="236.5" stroke="#1a1a1a" stroke-width="0.9"/>
<line x1="674.5" y1="236.5" x2="669.9" y2="236.5" stroke="#1a1a1a" stroke-width="0.9"/>
<line x1="394.5" y1="230.5" x2="399.1" y2="230.5" stroke="#1a1a1a" stroke-width="0.9"/>
<line x1="674.5" y1="230.5" x2="669.9" y2="230.5" stroke="#1a1a1a" stroke-width="0.9"/>
<line x1="394.5" y1="224.5" x2="403.7" y2="224.5" stroke="#1a1a1a" stroke-width="0.9"/>
<line x1="674.5" y1="224.5" x2="665.3" y2="224.5" stroke="#1a1a1a" stroke-width="0.9"/>
<line x1="394.5" y1="218.5" x2="399.1" y2="218.5" stroke="#1a1a1a" stroke-width="0.9"/>
<line x1="674.5" y1="218.5" x2="669.9" y2="218.5" stroke="#1a1a1a" stroke-width="0.9"/>
<line x1="394.5" y1="211.5" x2="399.1" y2="211.5" stroke="#1a1a1a" stroke-width="0.9"/>
<line x1="674.5" y1="211.5" x2="669.9" y2="211.5" stroke="#1a1a1a" stroke-width="0.9"/>
<line x1="394.5" y1="205.5" x2="399.1" y2="205.5" stroke="#1a1a1a" stroke-width="0.9"/>
<line x1="674.5" y1="205.5" x2="669.9" y2="205.5" stroke="#1a1a1a" stroke-width="0.9"/>
<line x1="394.5" y1="199.5" x2="403.7" y2="199.5" stroke="#1a1a1a" stroke-width="0.9"/>
<line x1="674.5" y1="199.5" x2="665.3" y2="199.5" stroke="#1a1a1a" stroke-width="0.9"/>
<line x1="394.5" y1="193.5" x2="399.1" y2="193.5" stroke="#1a1a1a" stroke-width="0.9"/>
<line x1="674.5" y1="193.5" x2="669.9" y2="193.5" stroke="#1a1a1a" stroke-width="0.9"/>
<line x1="394.5" y1="186.5" x2="399.1" y2="186.5" stroke="#1a1a1a" stroke-width="0.9"/>
<line x1="674.5" y1="186.5" x2="669.9" y2="186.5" stroke="#1a1a1a" stroke-width="0.9"/>
<line x1="394.5" y1="180.5" x2="399.1" y2="180.5" stroke="#1a1a1a" stroke-width="0.9"/>
<line x1="674.5" y1="180.5" x2="669.9" y2="180.5" stroke="#1a1a1a" stroke-width="0.9"/>
<line x1="394.5" y1="174.5" x2="403.7" y2="174.5" stroke="#1a1a1a" stroke-width="0.9"/>
<line x1="674.5" y1="174.5" x2="665.3" y2="174.5" stroke="#1a1a1a" stroke-width="0.9"/>
<line x1="394.5" y1="168.5" x2="399.1" y2="168.5" stroke="#1a1a1a" stroke-width="0.9"/>
<line x1="674.5" y1="168.5" x2="669.9" y2="168.5" stroke="#1a1a1a" stroke-width="0.9"/>
<line x1="394.5" y1="162.5" x2="399.1" y2="162.5" stroke="#1a1a1a" stroke-width="0.9"/>
<line x1="674.5" y1="162.5" x2="669.9" y2="162.5" stroke="#1a1a1a" stroke-width="0.9"/>
<line x1="394.5" y1="155.5" x2="399.1" y2="155.5" stroke="#1a1a1a" stroke-width="0.9"/>
<line x1="674.5" y1="155.5" x2="669.9" y2="155.5" stroke="#1a1a1a" stroke-width="0.9"/>
<line x1="394.5" y1="149.5" x2="403.7" y2="149.5" stroke="#1a1a1a" stroke-width="0.9"/>
<line x1="674.5" y1="149.5" x2="665.3" y2="149.5" stroke="#1a1a1a" stroke-width="0.9"/>
<line x1="394.5" y1="143.5" x2="399.1" y2="143.5" stroke="#1a1a1a" stroke-width="0.9"/>
<line x1="674.5" y1="143.5" x2="669.9" y2="143.5" stroke="#1a1a1a" stroke-width="0.9"/>
<line x1="394.5" y1="137.5" x2="399.1" y2="137.5" stroke="#1a1a1a" stroke-width="0.9"/>
<line x1="674.5" y1="137.5" x2="669.9" y2="137.5" stroke="#1a1a1a" stroke-width="0.9"/>
<line x1="394.5" y1="130.5" x2="399.1" y2="130.5" stroke="#1a1a1a" stroke-width="0.9"/>
<line x1="674.5" y1="130.5" x2="669.9" y2="130.5" stroke="#1a1a1a" stroke-width="0.9"/>
<line x1="394.5" y1="124.5" x2="403.7" y2="124.5" stroke="#1a1a1a" stroke-width="0.9"/>
<line x1="674.5" y1="124.5" x2="665.3" y2="124.5" stroke="#1a1a1a" stroke-width="0.9"/>
<line x1="394.5" y1="118.5" x2="399.1" y2="118.5" stroke="#1a1a1a" stroke-width="0.9"/>
<line x1="674.5" y1="118.5" x2="669.9" y2="118.5" stroke="#1a1a1a" stroke-width="0.9"/>
<line x1="394.5" y1="112.5" x2="399.1" y2="112.5" stroke="#1a1a1a" stroke-width="0.9"/>
<line x1="674.5" y1="112.5" x2="669.9" y2="112.5" stroke="#1a1a1a" stroke-width="0.9"/>
<line x1="394.5" y1="106.5" x2="399.1" y2="106.5" stroke="#1a1a1a" stroke-width="0.9"/>
<line x1="674.5" y1="106.5" x2="669.9" y2="106.5" stroke="#1a1a1a" stroke-width="0.9"/>
<line x1="394.5" y1="99.5" x2="403.7" y2="99.5" stroke="#1a1a1a" stroke-width="0.9"/>
<line x1="674.5" y1="99.5" x2="665.3" y2="99.5" stroke="#1a1a1a" stroke-width="0.9"/>
<line x1="394.5" y1="93.5" x2="399.1" y2="93.5" stroke="#1a1a1a" stroke-width="0.9"/>
<line x1="674.5" y1="93.5" x2="669.9" y2="93.5" stroke="#1a1a1a" stroke-width="0.9"/>
<line x1="394.5" y1="87.5" x2="399.1" y2="87.5" stroke="#1a1a1a" stroke-width="0.9"/>
<line x1="674.5" y1="87.5" x2="669.9" y2="87.5" stroke="#1a1a1a" stroke-width="0.9"/>
<line x1="394.5" y1="81.5" x2="399.1" y2="81.5" stroke="#1a1a1a" stroke-width="0.9"/>
<line x1="674.5" y1="81.5" x2="669.9" y2="81.5" stroke="#1a1a1a" stroke-width="0.9"/>
<line x1="394.5" y1="74.5" x2="403.7" y2="74.5" stroke="#1a1a1a" stroke-width="0.9"/>
<line x1="674.5" y1="74.5" x2="665.3" y2="74.5" stroke="#1a1a1a" stroke-width="0.9"/>
<line x1="394.5" y1="68.5" x2="399.1" y2="68.5" stroke="#1a1a1a" stroke-width="0.9"/>
<line x1="674.5" y1="68.5" x2="669.9" y2="68.5" stroke="#1a1a1a" stroke-width="0.9"/>
<line x1="394.5" y1="62.5" x2="399.1" y2="62.5" stroke="#1a1a1a" stroke-width="0.9"/>
<line x1="674.5" y1="62.5" x2="669.9" y2="62.5" stroke="#1a1a1a" stroke-width="0.9"/>
<line x1="394.5" y1="56.5" x2="399.1" y2="56.5" stroke="#1a1a1a" stroke-width="0.9"/>
<line x1="674.5" y1="56.5" x2="669.9" y2="56.5" stroke="#1a1a1a" stroke-width="0.9"/>
<line x1="394.5" y1="50.5" x2="403.7" y2="50.5" stroke="#1a1a1a" stroke-width="0.9"/>
<line x1="674.5" y1="50.5" x2="665.3" y2="50.5" stroke="#1a1a1a" stroke-width="0.9"/>
<line x1="394.5" y1="43.5" x2="399.1" y2="43.5" stroke="#1a1a1a" stroke-width="0.9"/>
<line x1="674.5" y1="43.5" x2="669.9" y2="43.5" stroke="#1a1a1a" stroke-width="0.9"/>
<line x1="394.5" y1="37.5" x2="399.1" y2="37.5" stroke="#1a1a1a" stroke-width="0.9"/>
<line x1="674.5" y1="37.5" x2="669.9" y2="37.5" stroke="#1a1a1a" stroke-width="0.9"/>
<line x1="394.5" y1="31.5" x2="399.1" y2="31.5" stroke="#1a1a1a" stroke-width="0.9"/>
<line x1="674.5" y1="31.5" x2="669.9" y2="31.5" stroke="#1a1a1a" stroke-width="0.9"/>
<line x1="394.5" y1="25.5" x2="403.7" y2="25.5" stroke="#1a1a1a" stroke-width="0.9"/>
<line x1="674.5" y1="25.5" x2="665.3" y2="25.5" stroke="#1a1a1a" stroke-width="0.9"/>
<line x1="394.5" y1="18.5" x2="399.1" y2="18.5" stroke="#1a1a1a" stroke-width="0.9"/>
<line x1="674.5" y1="18.5" x2="669.9" y2="18.5" stroke="#1a1a1a" stroke-width="0.9"/>
<line x1="394.5" y1="12.5" x2="399.1" y2="12.5" stroke="#1a1a1a" stroke-width="0.9"/>
<line x1="674.5" y1="12.5" x2="669.9" y2="12.5" stroke="#1a1a1a" stroke-width="0.9"/>
<line x1="394.5" y1="6.5" x2="399.1" y2="6.5" stroke="#1a1a1a" stroke-width="0.9"/>
<line x1="674.5" y1="6.5" x2="669.9" y2="6.5" stroke="#1a1a1a" stroke-width="0.9"/>
<text x="394.5" y="260.75" font-size="12" text-anchor="middle">0</text>
<text x="431.83" y="260.75" font-size="12" text-anchor="middle">100</text>
<text x="469.17" y="260.75" font-size="12" text-anchor="middle">200</text>
<text x="506.5" y="260.75" font-size="12" text-anchor="middle">300</text>
<text x="543.83" y="260.75" font-size="12" text-anchor="middle">400</text>
<text x="581.17" y="260.75" font-size="12" text-anchor="middle">500</text>
<text x="618.5" y="260.75" font-size="12" text-anchor="middle">600</text>
<text x="655.83" y="260.75" font-size="12" text-anchor="middle">700</text>
<text x="391.9" y="228.57" font-size="12" text-anchor="end">2</text>
<text x="391.9" y="203.68" font-size="12" text-anchor="end">4</text>
<text x="391.9" y="178.8" font-size="12" text-anchor="end">6</text>
<text x="391.9" y="153.91" font-size="12" text-anchor="end">8</text>
<text x="391.9" y="129.03" font-size="12" text-anchor="end">10</text>
<text x="391.9" y="104.15" font-size="12" text-anchor="end">12</text>
<text x="391.9" y="79.26" font-size="12" text-anchor="end">14</text>
<text x="391.9" y="54.38" font-size="12" text-anchor="end">16</text>
<text x="391.9" y="29.49" font-size="12" text-anchor="end">18</text>
<text transform="translate(373.5,0.7) rotate(-90)" font-size="12.75" text-anchor="end">Events / 150 GeV</text>
<text x="627.7" y="271.75" font-size="12.3">p</text>
<text x="634.7" y="267.35" font-size="8.8">ll</text>
<text x="634.5" y="277.55" font-size="8.8">T</text>
<text x="674.7" y="271.75" font-size="12.3" text-anchor="end">[GeV]</text>
<text x="409.1" y="24.2" font-size="14" font-weight="bold" font-style="italic">ATLAS</text>
<text x="408.5" y="41.7" font-size="14.2">SR</text>
<text x="427.9" y="34.8" font-size="9">Z</text>
<text x="428.5" y="46.1" font-size="9">1B</text>
<path d="M539.9,18 L541.7,23.8 L543.3,12.3 L551.5,12.3" fill="none" stroke="#000" stroke-width="1"/>
<text x="544.3" y="24" font-size="13.5">s=13 TeV,</text>
<text x="611.9" y="24" font-size="13.5">139 fb</text>
<text x="648.9" y="18.3" font-size="9.2">-1</text>
<circle cx="518.9" cy="37.9" r="2.75" fill="#000"/>
<text x="542.5" y="41" font-size="11.3">Data</text>
<clipPath id="hc4"><rect x="501.7" y="46.5" width="34.2" height="11.6"/></clipPath>
<g clip-path="url(#hc4)"><path d="M533.2,45.5L536.9,49.2M529.2,45.5L536.9,53.2M525.2,45.5L536.9,57.2M521.2,45.5L534.8,59.1M517.2,45.5L530.8,59.1M513.2,45.5L526.8,59.1M509.2,45.5L522.8,59.1M505.2,45.5L518.8,59.1M501.2,45.5L514.8,59.1M500.7,49L510.8,59.1M500.7,53L506.8,59.1M500.7,57L502.8,59.1" stroke="#000" stroke-opacity="0.62" stroke-width="0.95" fill="none"/></g>
<line x1="501.7" y1="52.3" x2="535.9" y2="52.3" stroke="#ff0000" stroke-width="1.2"/>
<text x="542.5" y="55.7" font-size="11.3">Standard Model</text>
<rect x="501.7" y="61.3" width="34.2" height="11.6" fill="#ffff00"/>
<text x="542.5" y="70.5" font-size="11.3">FNP</text>
<rect x="501.7" y="76.1" width="34.2" height="11.6" fill="#0060c8"/>
<text x="542.5" y="85.3" font-size="11.3">Multi-boson</text>
<rect x="501.7" y="90.9" width="34.2" height="11.6" fill="#00ffcc"/>
<text x="542.5" y="100.1" font-size="11.3">tt<tspan>Z</tspan></text>
<line x1="546.1" y1="91.4" x2="549.1" y2="91.4" stroke="#000" stroke-width="0.8"/>
<rect x="501.7" y="105.7" width="34.2" height="11.6" fill="#cc3399"/>
<text x="542.5" y="114.9" font-size="11.3">tZ and tWZ</text>
<rect x="501.7" y="120.5" width="34.2" height="11.6" fill="#cccccc"/>
<text x="542.5" y="129.7" font-size="11.3">Others</text>
<line x1="501.7" y1="141.1" x2="535.9" y2="141.1" stroke="#c0141e" stroke-width="1.25" stroke-dasharray="1.9,1.9"/>
<text x="542.2" y="144.3" font-size="11.3">m(</text>
<text x="554.4" y="144.3" font-size="11.3">t</text>
<path d="M554.2,134.3 q1.5,-1.9 3,-0.45 t2.9,-0.45" fill="none" stroke="#000" stroke-width="0.8"/>
<text x="558.2" y="147.2" font-size="6.6">1</text>
<text x="560.7" y="144.3" font-size="11.3">) = 800, m(</text>
<text x="615" y="145.2" font-size="12.2" font-style="italic">&#967;</text>
<path d="M615.6,136.4 q1.4,-1.7 2.9,-0.4 t2.9,-0.4" fill="none" stroke="#000" stroke-width="0.75"/>
<text x="621.8" y="137.4" font-size="6.6">0</text>
<text x="621.8" y="149.5" font-size="6.6">2</text>
<text x="626.1" y="144.3" font-size="11.3">) = 130</text>
<path d="M30.5,582.1 L30.5,454.24 L100.5,454.24 L100.5,545.64 L170.5,545.64 L170.5,550.53 L240.5,550.53 L240.5,564.26 L310.5,564.26 L310.5,582.1 Z" fill="#ffff00"/>
<path d="M30.5,582.1 L30.5,557 L100.5,557 L100.5,565.21 L170.5,565.21 L170.5,571.37 L240.5,571.37 L240.5,570.1 L310.5,570.1 L310.5,582.1 Z" fill="#0060c8"/>
<path d="M30.5,582.1 L30.5,573.99 L100.5,573.99 L100.5,576.1 L170.5,576.1 L170.5,577.52 L240.5,577.52 L240.5,578.94 L310.5,578.94 L310.5,582.1 Z" fill="#00ffcc"/>
<path d="M30.5,582.1 L30.5,578.79 L100.5,578.79 L100.5,578.94 L170.5,578.94 L170.5,580.21 L240.5,580.21 L240.5,580.52 L310.5,580.52 L310.5,582.1 Z" fill="#cc3399"/>
<path d="M30.5,582.1 L30.5,580.58 L100.5,580.58 L100.5,580.52 L170.5,580.52 L170.5,581.15 L240.5,581.15 L240.5,581.15 L310.5,581.15 L310.5,582.1 Z" fill="#cccccc"/>
<clipPath id="hc5"><rect x="30.5" y="411.94" width="70" height="84.92"/><rect x="100.5" y="535.06" width="70" height="21.15"/><rect x="170.5" y="540.11" width="70" height="22.26"/><rect x="240.5" y="559.37" width="70" height="10.42"/></clipPath>
<g clip-path="url(#hc5)"><path d="M310.64,410.94L311.5,411.8M306.64,410.94L311.5,415.8M302.64,410.94L311.5,419.8M298.64,410.94L311.5,423.8M294.64,410.94L311.5,427.8M290.64,410.94L311.5,431.8M286.64,410.94L311.5,435.8M282.64,410.94L311.5,439.8M278.64,410.94L311.5,443.8M274.64,410.94L311.5,447.8M270.64,410.94L311.5,451.8M266.64,410.94L311.5,455.8M262.64,410.94L311.5,459.8M258.64,410.94L311.5,463.8M254.64,410.94L311.5,467.8M250.64,410.94L311.5,471.8M246.64,410.94L311.5,475.8M242.64,410.94L311.5,479.8M238.64,410.94L311.5,483.8M234.64,410.94L311.5,487.8M230.64,410.94L311.5,491.8M226.64,410.94L311.5,495.8M222.64,410.94L311.5,499.8M218.64,410.94L311.5,503.8M214.64,410.94L311.5,507.8M210.64,410.94L311.5,511.8M206.64,410.94L311.5,515.8M202.64,410.94L311.5,519.8M198.64,410.94L311.5,523.8M194.64,410.94L311.5,527.8M190.64,410.94L311.5,531.8M186.64,410.94L311.5,535.8M182.64,410.94L311.5,539.8M178.64,410.94L311.5,543.8M174.64,410.94L311.5,547.8M170.64,410.94L311.5,551.8M166.64,410.94L311.5,555.8M162.64,410.94L311.5,559.8M158.64,410.94L311.5,563.8M154.64,410.94L311.5,567.8M150.64,410.94L310.49,570.79M146.64,410.94L306.49,570.79M142.64,410.94L302.49,570.79M138.64,410.94L298.49,570.79M134.64,410.94L294.49,570.79M130.64,410.94L290.49,570.79M126.64,410.94L286.49,570.79M122.64,410.94L282.49,570.79M118.64,410.94L278.49,570.79M114.64,410.94L274.49,570.79M110.64,410.94L270.49,570.79M106.64,410.94L266.49,570.79M102.64,410.94L262.49,570.79M98.64,410.94L258.49,570.79M94.64,410.94L254.49,570.79M90.64,410.94L250.49,570.79M86.64,410.94L246.49,570.79M82.64,410.94L242.49,570.79M78.64,410.94L238.49,570.79M74.64,410.94L234.49,570.79M70.64,410.94L230.49,570.79M66.64,410.94L226.49,570.79M62.64,410.94L222.49,570.79M58.64,410.94L218.49,570.79M54.64,410.94L214.49,570.79M50.64,410.94L210.49,570.79M46.64,410.94L206.49,570.79M42.64,410.94L202.49,570.79M38.64,410.94L198.49,570.79M34.64,410.94L194.49,570.79M30.64,410.94L190.49,570.79M29.5,413.8L186.49,570.79M29.5,417.8L182.49,570.79M29.5,421.8L178.49,570.79M29.5,425.8L174.49,570.79M29.5,429.8L170.49,570.79M29.5,433.8L166.49,570.79M29.5,437.8L162.49,570.79M29.5,441.8L158.49,570.79M29.5,445.8L154.49,570.79M29.5,449.8L150.49,570.79M29.5,453.8L146.49,570.79M29.5,457.8L142.49,570.79M29.5,461.8L138.49,570.79M29.5,465.8L134.49,570.79M29.5,469.8L130.49,570.79M29.5,473.8L126.49,570.79M29.5,477.8L122.49,570.79M29.5,481.8L118.49,570.79M29.5,485.8L114.49,570.79M29.5,489.8L110.49,570.79M29.5,493.8L106.49,570.79M29.5,497.8L102.49,570.79M29.5,501.8L98.49,570.79M29.5,505.8L94.49,570.79M29.5,509.8L90.49,570.79M29.5,513.8L86.49,570.79M29.5,517.8L82.49,570.79M29.5,521.8L78.49,570.79M29.5,525.8L74.49,570.79M29.5,529.8L70.49,570.79M29.5,533.8L66.49,570.79M29.5,537.8L62.49,570.79M29.5,541.8L58.49,570.79M29.5,545.8L54.49,570.79M29.5,549.8L50.49,570.79M29.5,553.8L46.49,570.79M29.5,557.8L42.49,570.79M29.5,561.8L38.49,570.79M29.5,565.8L34.49,570.79M29.5,569.8L30.49,570.79" stroke="#000" stroke-opacity="0.62" stroke-width="0.95" fill="none"/></g>
<path d="M30.5,454.24 L100.5,454.24 L100.5,545.64 L170.5,545.64 L170.5,550.53 L240.5,550.53 L240.5,564.26 L310.5,564.26" fill="none" stroke="#ff0000" stroke-width="1.2"/>
<path d="M30.5,570.42 L100.5,570.42 L100.5,563.47 L170.5,563.47 L170.5,553.53 L240.5,553.53 L240.5,498.76 L310.5,498.76" fill="none" stroke="#c0141e" stroke-width="1.25" stroke-dasharray="1.9,1.9"/>
<path d="M240.5,582.1 L240.5,527.48 L243.1,527.48" fill="none" stroke="#000" stroke-width="1.4"/>
<path d="M243.1,524.28 L252.7,527.48 L243.1,530.68 Z" fill="#000"/>
<line x1="65.5" y1="453.29" x2="65.5" y2="492.76" stroke="#000" stroke-width="1.3"/>
<circle cx="65.5" cy="474.76" r="2.7" fill="#000"/>
<line x1="135.5" y1="512.01" x2="135.5" y2="541.69" stroke="#000" stroke-width="1.3"/>
<circle cx="135.5" cy="528.43" r="2.7" fill="#000"/>
<line x1="205.5" y1="548" x2="205.5" y2="568.21" stroke="#000" stroke-width="1.3"/>
<circle cx="205.5" cy="560" r="2.7" fill="#000"/>
<line x1="275.5" y1="564.42" x2="275.5" y2="577.36" stroke="#000" stroke-width="1.3"/>
<circle cx="275.5" cy="572.63" r="2.7" fill="#000"/>
<path d="M30.5,333 L30.5,582.1 L310.5,582.1" fill="none" stroke="#1a1a1a" stroke-width="1"/>
<path d="M310.5,333 L310.5,582.1" fill="none" stroke="#1a1a1a" stroke-width="1"/>
<line x1="30" y1="333.5" x2="311" y2="333.5" stroke="#1a1a1a" stroke-width="1"/>
<line x1="37.5" y1="582.1" x2="37.5" y2="578.4" stroke="#1a1a1a" stroke-width="0.9"/>
<line x1="37.5" y1="333.5" x2="37.5" y2="337.2" stroke="#1a1a1a" stroke-width="0.9"/>
<line x1="44.5" y1="582.1" x2="44.5" y2="575.1" stroke="#1a1a1a" stroke-width="0.9"/>
<line x1="44.5" y1="333.5" x2="44.5" y2="340.5" stroke="#1a1a1a" stroke-width="0.9"/>
<line x1="51.5" y1="582.1" x2="51.5" y2="578.4" stroke="#1a1a1a" stroke-width="0.9"/>
<line x1="51.5" y1="333.5" x2="51.5" y2="337.2" stroke="#1a1a1a" stroke-width="0.9"/>
<line x1="58.5" y1="582.1" x2="58.5" y2="578.4" stroke="#1a1a1a" stroke-width="0.9"/>
<line x1="58.5" y1="333.5" x2="58.5" y2="337.2" stroke="#1a1a1a" stroke-width="0.9"/>
<line x1="65.5" y1="582.1" x2="65.5" y2="578.4" stroke="#1a1a1a" stroke-width="0.9"/>
<line x1="65.5" y1="333.5" x2="65.5" y2="337.2" stroke="#1a1a1a" stroke-width="0.9"/>
<line x1="72.5" y1="582.1" x2="72.5" y2="575.1" stroke="#1a1a1a" stroke-width="0.9"/>
<line x1="72.5" y1="333.5" x2="72.5" y2="340.5" stroke="#1a1a1a" stroke-width="0.9"/>
<line x1="79.5" y1="582.1" x2="79.5" y2="578.4" stroke="#1a1a1a" stroke-width="0.9"/>
<line x1="79.5" y1="333.5" x2="79.5" y2="337.2" stroke="#1a1a1a" stroke-width="0.9"/>
<line x1="86.5" y1="582.1" x2="86.5" y2="578.4" stroke="#1a1a1a" stroke-width="0.9"/>
<line x1="86.5" y1="333.5" x2="86.5" y2="337.2" stroke="#1a1a1a" stroke-width="0.9"/>
<line x1="93.5" y1="582.1" x2="93.5" y2="578.4" stroke="#1a1a1a" stroke-width="0.9"/>
<line x1="93.5" y1="333.5" x2="93.5" y2="337.2" stroke="#1a1a1a" stroke-width="0.9"/>
<line x1="100.5" y1="582.1" x2="100.5" y2="575.1" stroke="#1a1a1a" stroke-width="0.9"/>
<line x1="100.5" y1="333.5" x2="100.5" y2="340.5" stroke="#1a1a1a" stroke-width="0.9"/>
<line x1="107.5" y1="582.1" x2="107.5" y2="578.4" stroke="#1a1a1a" stroke-width="0.9"/>
<line x1="107.5" y1="333.5" x2="107.5" y2="337.2" stroke="#1a1a1a" stroke-width="0.9"/>
<line x1="114.5" y1="582.1" x2="114.5" y2="578.4" stroke="#1a1a1a" stroke-width="0.9"/>
<line x1="114.5" y1="333.5" x2="114.5" y2="337.2" stroke="#1a1a1a" stroke-width="0.9"/>
<line x1="121.5" y1="582.1" x2="121.5" y2="578.4" stroke="#1a1a1a" stroke-width="0.9"/>
<line x1="121.5" y1="333.5" x2="121.5" y2="337.2" stroke="#1a1a1a" stroke-width="0.9"/>
<line x1="128.5" y1="582.1" x2="128.5" y2="575.1" stroke="#1a1a1a" stroke-width="0.9"/>
<line x1="128.5" y1="333.5" x2="128.5" y2="340.5" stroke="#1a1a1a" stroke-width="0.9"/>
<line x1="135.5" y1="582.1" x2="135.5" y2="578.4" stroke="#1a1a1a" stroke-width="0.9"/>
<line x1="135.5" y1="333.5" x2="135.5" y2="337.2" stroke="#1a1a1a" stroke-width="0.9"/>
<line x1="142.5" y1="582.1" x2="142.5" y2="578.4" stroke="#1a1a1a" stroke-width="0.9"/>
<line x1="142.5" y1="333.5" x2="142.5" y2="337.2" stroke="#1a1a1a" stroke-width="0.9"/>
<line x1="149.5" y1="582.1" x2="149.5" y2="578.4" stroke="#1a1a1a" stroke-width="0.9"/>
<line x1="149.5" y1="333.5" x2="149.5" y2="337.2" stroke="#1a1a1a" stroke-width="0.9"/>
<line x1="156.5" y1="582.1" x2="156.5" y2="575.1" stroke="#1a1a1a" stroke-width="0.9"/>
<line x1="156.5" y1="333.5" x2="156.5" y2="340.5" stroke="#1a1a1a" stroke-width="0.9"/>
<line x1="163.5" y1="582.1" x2="163.5" y2="578.4" stroke="#1a1a1a" stroke-width="0.9"/>
<line x1="163.5" y1="333.5" x2="163.5" y2="337.2" stroke="#1a1a1a" stroke-width="0.9"/>
<line x1="170.5" y1="582.1" x2="170.5" y2="578.4" stroke="#1a1a1a" stroke-width="0.9"/>
<line x1="170.5" y1="333.5" x2="170.5" y2="337.2" stroke="#1a1a1a" stroke-width="0.9"/>
<line x1="177.5" y1="582.1" x2="177.5" y2="578.4" stroke="#1a1a1a" stroke-width="0.9"/>
<line x1="177.5" y1="333.5" x2="177.5" y2="337.2" stroke="#1a1a1a" stroke-width="0.9"/>
<line x1="184.5" y1="582.1" x2="184.5" y2="575.1" stroke="#1a1a1a" stroke-width="0.9"/>
<line x1="184.5" y1="333.5" x2="184.5" y2="340.5" stroke="#1a1a1a" stroke-width="0.9"/>
<line x1="191.5" y1="582.1" x2="191.5" y2="578.4" stroke="#1a1a1a" stroke-width="0.9"/>
<line x1="191.5" y1="333.5" x2="191.5" y2="337.2" stroke="#1a1a1a" stroke-width="0.9"/>
<line x1="198.5" y1="582.1" x2="198.5" y2="578.4" stroke="#1a1a1a" stroke-width="0.9"/>
<line x1="198.5" y1="333.5" x2="198.5" y2="337.2" stroke="#1a1a1a" stroke-width="0.9"/>
<line x1="205.5" y1="582.1" x2="205.5" y2="578.4" stroke="#1a1a1a" stroke-width="0.9"/>
<line x1="205.5" y1="333.5" x2="205.5" y2="337.2" stroke="#1a1a1a" stroke-width="0.9"/>
<line x1="212.5" y1="582.1" x2="212.5" y2="575.1" stroke="#1a1a1a" stroke-width="0.9"/>
<line x1="212.5" y1="333.5" x2="212.5" y2="340.5" stroke="#1a1a1a" stroke-width="0.9"/>
<line x1="219.5" y1="582.1" x2="219.5" y2="578.4" stroke="#1a1a1a" stroke-width="0.9"/>
<line x1="219.5" y1="333.5" x2="219.5" y2="337.2" stroke="#1a1a1a" stroke-width="0.9"/>
<line x1="226.5" y1="582.1" x2="226.5" y2="578.4" stroke="#1a1a1a" stroke-width="0.9"/>
<line x1="226.5" y1="333.5" x2="226.5" y2="337.2" stroke="#1a1a1a" stroke-width="0.9"/>
<line x1="233.5" y1="582.1" x2="233.5" y2="578.4" stroke="#1a1a1a" stroke-width="0.9"/>
<line x1="233.5" y1="333.5" x2="233.5" y2="337.2" stroke="#1a1a1a" stroke-width="0.9"/>
<line x1="240.5" y1="582.1" x2="240.5" y2="575.1" stroke="#1a1a1a" stroke-width="0.9"/>
<line x1="240.5" y1="333.5" x2="240.5" y2="340.5" stroke="#1a1a1a" stroke-width="0.9"/>
<line x1="247.5" y1="582.1" x2="247.5" y2="578.4" stroke="#1a1a1a" stroke-width="0.9"/>
<line x1="247.5" y1="333.5" x2="247.5" y2="337.2" stroke="#1a1a1a" stroke-width="0.9"/>
<line x1="254.5" y1="582.1" x2="254.5" y2="578.4" stroke="#1a1a1a" stroke-width="0.9"/>
<line x1="254.5" y1="333.5" x2="254.5" y2="337.2" stroke="#1a1a1a" stroke-width="0.9"/>
<line x1="261.5" y1="582.1" x2="261.5" y2="578.4" stroke="#1a1a1a" stroke-width="0.9"/>
<line x1="261.5" y1="333.5" x2="261.5" y2="337.2" stroke="#1a1a1a" stroke-width="0.9"/>
<line x1="268.5" y1="582.1" x2="268.5" y2="575.1" stroke="#1a1a1a" stroke-width="0.9"/>
<line x1="268.5" y1="333.5" x2="268.5" y2="340.5" stroke="#1a1a1a" stroke-width="0.9"/>
<line x1="275.5" y1="582.1" x2="275.5" y2="578.4" stroke="#1a1a1a" stroke-width="0.9"/>
<line x1="275.5" y1="333.5" x2="275.5" y2="337.2" stroke="#1a1a1a" stroke-width="0.9"/>
<line x1="282.5" y1="582.1" x2="282.5" y2="578.4" stroke="#1a1a1a" stroke-width="0.9"/>
<line x1="282.5" y1="333.5" x2="282.5" y2="337.2" stroke="#1a1a1a" stroke-width="0.9"/>
<line x1="289.5" y1="582.1" x2="289.5" y2="578.4" stroke="#1a1a1a" stroke-width="0.9"/>
<line x1="289.5" y1="333.5" x2="289.5" y2="337.2" stroke="#1a1a1a" stroke-width="0.9"/>
<line x1="296.5" y1="582.1" x2="296.5" y2="575.1" stroke="#1a1a1a" stroke-width="0.9"/>
<line x1="296.5" y1="333.5" x2="296.5" y2="340.5" stroke="#1a1a1a" stroke-width="0.9"/>
<line x1="303.5" y1="582.1" x2="303.5" y2="578.4" stroke="#1a1a1a" stroke-width="0.9"/>
<line x1="303.5" y1="333.5" x2="303.5" y2="337.2" stroke="#1a1a1a" stroke-width="0.9"/>
<line x1="30.5" y1="575.5" x2="35.1" y2="575.5" stroke="#1a1a1a" stroke-width="0.9"/>
<line x1="310.5" y1="575.5" x2="305.9" y2="575.5" stroke="#1a1a1a" stroke-width="0.9"/>
<line x1="30.5" y1="569.5" x2="35.1" y2="569.5" stroke="#1a1a1a" stroke-width="0.9"/>
<line x1="310.5" y1="569.5" x2="305.9" y2="569.5" stroke="#1a1a1a" stroke-width="0.9"/>
<line x1="30.5" y1="563.5" x2="35.1" y2="563.5" stroke="#1a1a1a" stroke-width="0.9"/>
<line x1="310.5" y1="563.5" x2="305.9" y2="563.5" stroke="#1a1a1a" stroke-width="0.9"/>
<line x1="30.5" y1="556.5" x2="35.1" y2="556.5" stroke="#1a1a1a" stroke-width="0.9"/>
<line x1="310.5" y1="556.5" x2="305.9" y2="556.5" stroke="#1a1a1a" stroke-width="0.9"/>
<line x1="30.5" y1="550.5" x2="39.7" y2="550.5" stroke="#1a1a1a" stroke-width="0.9"/>
<line x1="310.5" y1="550.5" x2="301.3" y2="550.5" stroke="#1a1a1a" stroke-width="0.9"/>
<line x1="30.5" y1="544.5" x2="35.1" y2="544.5" stroke="#1a1a1a" stroke-width="0.9"/>
<line x1="310.5" y1="544.5" x2="305.9" y2="544.5" stroke="#1a1a1a" stroke-width="0.9"/>
<line x1="30.5" y1="537.5" x2="35.1" y2="537.5" stroke="#1a1a1a" stroke-width="0.9"/>
<line x1="310.5" y1="537.5" x2="305.9" y2="537.5" stroke="#1a1a1a" stroke-width="0.9"/>
<line x1="30.5" y1="531.5" x2="35.1" y2="531.5" stroke="#1a1a1a" stroke-width="0.9"/>
<line x1="310.5" y1="531.5" x2="305.9" y2="531.5" stroke="#1a1a1a" stroke-width="0.9"/>
<line x1="30.5" y1="525.5" x2="35.1" y2="525.5" stroke="#1a1a1a" stroke-width="0.9"/>
<line x1="310.5" y1="525.5" x2="305.9" y2="525.5" stroke="#1a1a1a" stroke-width="0.9"/>
<line x1="30.5" y1="518.5" x2="39.7" y2="518.5" stroke="#1a1a1a" stroke-width="0.9"/>
<line x1="310.5" y1="518.5" x2="301.3" y2="518.5" stroke="#1a1a1a" stroke-width="0.9"/>
<line x1="30.5" y1="512.5" x2="35.1" y2="512.5" stroke="#1a1a1a" stroke-width="0.9"/>
<line x1="310.5" y1="512.5" x2="305.9" y2="512.5" stroke="#1a1a1a" stroke-width="0.9"/>
<line x1="30.5" y1="506.5" x2="35.1" y2="506.5" stroke="#1a1a1a" stroke-width="0.9"/>
<line x1="310.5" y1="506.5" x2="305.9" y2="506.5" stroke="#1a1a1a" stroke-width="0.9"/>
<line x1="30.5" y1="500.5" x2="35.1" y2="500.5" stroke="#1a1a1a" stroke-width="0.9"/>
<line x1="310.5" y1="500.5" x2="305.9" y2="500.5" stroke="#1a1a1a" stroke-width="0.9"/>
<line x1="30.5" y1="493.5" x2="35.1" y2="493.5" stroke="#1a1a1a" stroke-width="0.9"/>
<line x1="310.5" y1="493.5" x2="305.9" y2="493.5" stroke="#1a1a1a" stroke-width="0.9"/>
<line x1="30.5" y1="487.5" x2="39.7" y2="487.5" stroke="#1a1a1a" stroke-width="0.9"/>
<line x1="310.5" y1="487.5" x2="301.3" y2="487.5" stroke="#1a1a1a" stroke-width="0.9"/>
<line x1="30.5" y1="481.5" x2="35.1" y2="481.5" stroke="#1a1a1a" stroke-width="0.9"/>
<line x1="310.5" y1="481.5" x2="305.9" y2="481.5" stroke="#1a1a1a" stroke-width="0.9"/>
<line x1="30.5" y1="474.5" x2="35.1" y2="474.5" stroke="#1a1a1a" stroke-width="0.9"/>
<line x1="310.5" y1="474.5" x2="305.9" y2="474.5" stroke="#1a1a1a" stroke-width="0.9"/>
<line x1="30.5" y1="468.5" x2="35.1" y2="468.5" stroke="#1a1a1a" stroke-width="0.9"/>
<line x1="310.5" y1="468.5" x2="305.9" y2="468.5" stroke="#1a1a1a" stroke-width="0.9"/>
<line x1="30.5" y1="462.5" x2="35.1" y2="462.5" stroke="#1a1a1a" stroke-width="0.9"/>
<line x1="310.5" y1="462.5" x2="305.9" y2="462.5" stroke="#1a1a1a" stroke-width="0.9"/>
<line x1="30.5" y1="455.5" x2="39.7" y2="455.5" stroke="#1a1a1a" stroke-width="0.9"/>
<line x1="310.5" y1="455.5" x2="301.3" y2="455.5" stroke="#1a1a1a" stroke-width="0.9"/>
<line x1="30.5" y1="449.5" x2="35.1" y2="449.5" stroke="#1a1a1a" stroke-width="0.9"/>
<line x1="310.5" y1="449.5" x2="305.9" y2="449.5" stroke="#1a1a1a" stroke-width="0.9"/>
<line x1="30.5" y1="443.5" x2="35.1" y2="443.5" stroke="#1a1a1a" stroke-width="0.9"/>
<line x1="310.5" y1="443.5" x2="305.9" y2="443.5" stroke="#1a1a1a" stroke-width="0.9"/>
<line x1="30.5" y1="436.5" x2="35.1" y2="436.5" stroke="#1a1a1a" stroke-width="0.9"/>
<line x1="310.5" y1="436.5" x2="305.9" y2="436.5" stroke="#1a1a1a" stroke-width="0.9"/>
<line x1="30.5" y1="430.5" x2="35.1" y2="430.5" stroke="#1a1a1a" stroke-width="0.9"/>
<line x1="310.5" y1="430.5" x2="305.9" y2="430.5" stroke="#1a1a1a" stroke-width="0.9"/>
<line x1="30.5" y1="424.5" x2="39.7" y2="424.5" stroke="#1a1a1a" stroke-width="0.9"/>
<line x1="310.5" y1="424.5" x2="301.3" y2="424.5" stroke="#1a1a1a" stroke-width="0.9"/>
<line x1="30.5" y1="417.5" x2="35.1" y2="417.5" stroke="#1a1a1a" stroke-width="0.9"/>
<line x1="310.5" y1="417.5" x2="305.9" y2="417.5" stroke="#1a1a1a" stroke-width="0.9"/>
<line x1="30.5" y1="411.5" x2="35.1" y2="411.5" stroke="#1a1a1a" stroke-width="0.9"/>
<line x1="310.5" y1="411.5" x2="305.9" y2="411.5" stroke="#1a1a1a" stroke-width="0.9"/>
<line x1="30.5" y1="405.5" x2="35.1" y2="405.5" stroke="#1a1a1a" stroke-width="0.9"/>
<line x1="310.5" y1="405.5" x2="305.9" y2="405.5" stroke="#1a1a1a" stroke-width="0.9"/>
<line x1="30.5" y1="398.5" x2="35.1" y2="398.5" stroke="#1a1a1a" stroke-width="0.9"/>
<line x1="310.5" y1="398.5" x2="305.9" y2="398.5" stroke="#1a1a1a" stroke-width="0.9"/>
<line x1="30.5" y1="392.5" x2="39.7" y2="392.5" stroke="#1a1a1a" stroke-width="0.9"/>
<line x1="310.5" y1="392.5" x2="301.3" y2="392.5" stroke="#1a1a1a" stroke-width="0.9"/>
<line x1="30.5" y1="386.5" x2="35.1" y2="386.5" stroke="#1a1a1a" stroke-width="0.9"/>
<line x1="310.5" y1="386.5" x2="305.9" y2="386.5" stroke="#1a1a1a" stroke-width="0.9"/>
<line x1="30.5" y1="380.5" x2="35.1" y2="380.5" stroke="#1a1a1a" stroke-width="0.9"/>
<line x1="310.5" y1="380.5" x2="305.9" y2="380.5" stroke="#1a1a1a" stroke-width="0.9"/>
<line x1="30.5" y1="373.5" x2="35.1" y2="373.5" stroke="#1a1a1a" stroke-width="0.9"/>
<line x1="310.5" y1="373.5" x2="305.9" y2="373.5" stroke="#1a1a1a" stroke-width="0.9"/>
<line x1="30.5" y1="367.5" x2="35.1" y2="367.5" stroke="#1a1a1a" stroke-width="0.9"/>
<line x1="310.5" y1="367.5" x2="305.9" y2="367.5" stroke="#1a1a1a" stroke-width="0.9"/>
<line x1="30.5" y1="361.5" x2="39.7" y2="361.5" stroke="#1a1a1a" stroke-width="0.9"/>
<line x1="310.5" y1="361.5" x2="301.3" y2="361.5" stroke="#1a1a1a" stroke-width="0.9"/>
<line x1="30.5" y1="354.5" x2="35.1" y2="354.5" stroke="#1a1a1a" stroke-width="0.9"/>
<line x1="310.5" y1="354.5" x2="305.9" y2="354.5" stroke="#1a1a1a" stroke-width="0.9"/>
<line x1="30.5" y1="348.5" x2="35.1" y2="348.5" stroke="#1a1a1a" stroke-width="0.9"/>
<line x1="310.5" y1="348.5" x2="305.9" y2="348.5" stroke="#1a1a1a" stroke-width="0.9"/>
<line x1="30.5" y1="342.5" x2="35.1" y2="342.5" stroke="#1a1a1a" stroke-width="0.9"/>
<line x1="310.5" y1="342.5" x2="305.9" y2="342.5" stroke="#1a1a1a" stroke-width="0.9"/>
<line x1="30.5" y1="335.5" x2="35.1" y2="335.5" stroke="#1a1a1a" stroke-width="0.9"/>
<line x1="310.5" y1="335.5" x2="305.9" y2="335.5" stroke="#1a1a1a" stroke-width="0.9"/>
<text x="44.5" y="593.7" font-size="12" text-anchor="middle">60</text>
<text x="72.5" y="593.7" font-size="12" text-anchor="middle">80</text>
<text x="100.5" y="593.7" font-size="12" text-anchor="middle">100</text>
<text x="128.5" y="593.7" font-size="12" text-anchor="middle">120</text>
<text x="156.5" y="593.7" font-size="12" text-anchor="middle">140</text>
<text x="184.5" y="593.7" font-size="12" text-anchor="middle">160</text>
<text x="212.5" y="593.7" font-size="12" text-anchor="middle">180</text>
<text x="240.5" y="593.7" font-size="12" text-anchor="middle">200</text>
<text x="268.5" y="593.7" font-size="12" text-anchor="middle">220</text>
<text x="296.5" y="593.7" font-size="12" text-anchor="middle">240</text>
<text x="27.9" y="554.83" font-size="12" text-anchor="end">10</text>
<text x="27.9" y="523.26" font-size="12" text-anchor="end">20</text>
<text x="27.9" y="491.69" font-size="12" text-anchor="end">30</text>
<text x="27.9" y="460.12" font-size="12" text-anchor="end">40</text>
<text x="27.9" y="428.55" font-size="12" text-anchor="end">50</text>
<text x="27.9" y="396.98" font-size="12" text-anchor="end">60</text>
<text x="27.9" y="365.41" font-size="12" text-anchor="end">70</text>
<text transform="translate(9,333.7) rotate(-90)" font-size="12.75" text-anchor="end">Events / 50 GeV</text>
<text x="249.9" y="607.4" font-size="12.3">E</text>
<text x="258.5" y="601.9" font-size="8.8">miss</text>
<text x="258.9" y="611.1" font-size="8.8">T</text>
<text x="309.9" y="607.4" font-size="12.3" text-anchor="end">[GeV]</text>
<text x="45.1" y="357.2" font-size="14" font-weight="bold" font-style="italic">ATLAS</text>
<text x="44.5" y="374.7" font-size="14.2">SR</text>
<text x="63.9" y="367.8" font-size="9">Z</text>
<text x="64.5" y="379.1" font-size="9">2A</text>
<path d="M175.9,351 L177.7,356.8 L179.3,345.3 L187.5,345.3" fill="none" stroke="#000" stroke-width="1"/>
<text x="180.3" y="357" font-size="13.5">s=13 TeV,</text>
<text x="247.9" y="357" font-size="13.5">139 fb</text>
<text x="284.9" y="351.3" font-size="9.2">-1</text>
<circle cx="154.9" cy="370.9" r="2.75" fill="#000"/>
<text x="178.5" y="374" font-size="11.3">Data</text>
<clipPath id="hc6"><rect x="137.7" y="379.5" width="34.2" height="11.6"/></clipPath>
<g clip-path="url(#hc6)"><path d="M170.2,378.5L172.9,381.2M166.2,378.5L172.9,385.2M162.2,378.5L172.9,389.2M158.2,378.5L171.8,392.1M154.2,378.5L167.8,392.1M150.2,378.5L163.8,392.1M146.2,378.5L159.8,392.1M142.2,378.5L155.8,392.1M138.2,378.5L151.8,392.1M136.7,381L147.8,392.1M136.7,385L143.8,392.1M136.7,389L139.8,392.1" stroke="#000" stroke-opacity="0.62" stroke-width="0.95" fill="none"/></g>
<line x1="137.7" y1="385.3" x2="171.9" y2="385.3" stroke="#ff0000" stroke-width="1.2"/>
<text x="178.5" y="388.7" font-size="11.3">Standard Model</text>
<rect x="137.7" y="394.3" width="34.2" height="11.6" fill="#ffff00"/>
<text x="178.5" y="403.5" font-size="11.3">FNP</text>
<rect x="137.7" y="409.1" width="34.2" height="11.6" fill="#0060c8"/>
<text x="178.5" y="418.3" font-size="11.3">Multi-boson</text>
<rect x="137.7" y="423.9" width="34.2" height="11.6" fill="#00ffcc"/>
<text x="178.5" y="433.1" font-size="11.3">tt<tspan>Z</tspan></text>
<line x1="182.1" y1="424.4" x2="185.1" y2="424.4" stroke="#000" stroke-width="0.8"/>
<rect x="137.7" y="438.7" width="34.2" height="11.6" fill="#cc3399"/>
<text x="178.5" y="447.9" font-size="11.3">tZ and tWZ</text>
<rect x="137.7" y="453.5" width="34.2" height="11.6" fill="#cccccc"/>
<text x="178.5" y="462.7" font-size="11.3">Others</text>
<line x1="137.7" y1="474.1" x2="171.9" y2="474.1" stroke="#c0141e" stroke-width="1.25" stroke-dasharray="1.9,1.9"/>
<text x="178.2" y="477.3" font-size="11.3">m(</text>
<text x="190.4" y="477.3" font-size="11.3">t</text>
<path d="M190.2,467.3 q1.5,-1.9 3,-0.45 t2.9,-0.45" fill="none" stroke="#000" stroke-width="0.8"/>
<text x="194.2" y="480.2" font-size="6.6">2</text>
<text x="198" y="477.3" font-size="11.3">) = 500, m(</text>
<text x="251" y="478.2" font-size="12.2" font-style="italic">&#967;</text>
<path d="M251.6,469.4 q1.4,-1.7 2.9,-0.4 t2.9,-0.4" fill="none" stroke="#000" stroke-width="0.75"/>
<text x="257.8" y="470.4" font-size="6.6">0</text>
<text x="257.8" y="482.5" font-size="6.6">1</text>
<text x="262.1" y="477.3" font-size="11.3">) = 350</text>
<path d="M394.5,582.3 L394.5,505.18 L464.5,505.18 L464.5,549.08 L534.5,549.08 L534.5,560.6 L604.5,560.6 L604.5,547.38 L674.5,547.38 L674.5,582.3 Z" fill="#ffff00"/>
<path d="M394.5,582.3 L394.5,524.67 L464.5,524.67 L464.5,550.09 L534.5,550.09 L534.5,564.5 L604.5,564.5 L604.5,550.6 L674.5,550.6 L674.5,582.3 Z" fill="#0060c8"/>
<path d="M394.5,582.3 L394.5,545.01 L464.5,545.01 L464.5,561.28 L534.5,561.28 L534.5,569.25 L604.5,569.25 L604.5,557.21 L674.5,557.21 L674.5,582.3 Z" fill="#00ffcc"/>
<path d="M394.5,582.3 L394.5,563.99 L464.5,563.99 L464.5,575.18 L534.5,575.18 L534.5,577.72 L604.5,577.72 L604.5,573.99 L674.5,573.99 L674.5,582.3 Z" fill="#cc3399"/>
<path d="M394.5,582.3 L394.5,575.35 L464.5,575.35 L464.5,578.74 L534.5,578.74 L534.5,582.3 L604.5,582.3 L604.5,582.3 L674.5,582.3 L674.5,582.3 Z" fill="#cccccc"/>
<clipPath id="hc7"><rect x="394.5" y="492.8" width="70" height="24.58"/><rect x="464.5" y="542.64" width="70" height="12.54"/><rect x="534.5" y="554.84" width="70" height="11.36"/><rect x="604.5" y="540.09" width="70" height="15.09"/></clipPath>
<g clip-path="url(#hc7)"><path d="M671.5,491.8L675.5,495.8M667.5,491.8L675.5,499.8M663.5,491.8L675.5,503.8M659.5,491.8L675.5,507.8M655.5,491.8L675.5,511.8M651.5,491.8L675.5,515.8M647.5,491.8L675.5,519.8M643.5,491.8L675.5,523.8M639.5,491.8L675.5,527.8M635.5,491.8L675.5,531.8M631.5,491.8L675.5,535.8M627.5,491.8L675.5,539.8M623.5,491.8L675.5,543.8M619.5,491.8L675.5,547.8M615.5,491.8L675.5,551.8M611.5,491.8L675.5,555.8M607.5,491.8L675.5,559.8M603.5,491.8L675.5,563.8M599.5,491.8L674.9,567.2M595.5,491.8L670.9,567.2M591.5,491.8L666.9,567.2M587.5,491.8L662.9,567.2M583.5,491.8L658.9,567.2M579.5,491.8L654.9,567.2M575.5,491.8L650.9,567.2M571.5,491.8L646.9,567.2M567.5,491.8L642.9,567.2M563.5,491.8L638.9,567.2M559.5,491.8L634.9,567.2M555.5,491.8L630.9,567.2M551.5,491.8L626.9,567.2M547.5,491.8L622.9,567.2M543.5,491.8L618.9,567.2M539.5,491.8L614.9,567.2M535.5,491.8L610.9,567.2M531.5,491.8L606.9,567.2M527.5,491.8L602.9,567.2M523.5,491.8L598.9,567.2M519.5,491.8L594.9,567.2M515.5,491.8L590.9,567.2M511.5,491.8L586.9,567.2M507.5,491.8L582.9,567.2M503.5,491.8L578.9,567.2M499.5,491.8L574.9,567.2M495.5,491.8L570.9,567.2M491.5,491.8L566.9,567.2M487.5,491.8L562.9,567.2M483.5,491.8L558.9,567.2M479.5,491.8L554.9,567.2M475.5,491.8L550.9,567.2M471.5,491.8L546.9,567.2M467.5,491.8L542.9,567.2M463.5,491.8L538.9,567.2M459.5,491.8L534.9,567.2M455.5,491.8L530.9,567.2M451.5,491.8L526.9,567.2M447.5,491.8L522.9,567.2M443.5,491.8L518.9,567.2M439.5,491.8L514.9,567.2M435.5,491.8L510.9,567.2M431.5,491.8L506.9,567.2M427.5,491.8L502.9,567.2M423.5,491.8L498.9,567.2M419.5,491.8L494.9,567.2M415.5,491.8L490.9,567.2M411.5,491.8L486.9,567.2M407.5,491.8L482.9,567.2M403.5,491.8L478.9,567.2M399.5,491.8L474.9,567.2M395.5,491.8L470.9,567.2M393.5,493.8L466.9,567.2M393.5,497.8L462.9,567.2M393.5,501.8L458.9,567.2M393.5,505.8L454.9,567.2M393.5,509.8L450.9,567.2M393.5,513.8L446.9,567.2M393.5,517.8L442.9,567.2M393.5,521.8L438.9,567.2M393.5,525.8L434.9,567.2M393.5,529.8L430.9,567.2M393.5,533.8L426.9,567.2M393.5,537.8L422.9,567.2M393.5,541.8L418.9,567.2M393.5,545.8L414.9,567.2M393.5,549.8L410.9,567.2M393.5,553.8L406.9,567.2M393.5,557.8L402.9,567.2M393.5,561.8L398.9,567.2M393.5,565.8L394.9,567.2" stroke="#000" stroke-opacity="0.62" stroke-width="0.95" fill="none"/></g>
<path d="M394.5,505.18 L464.5,505.18 L464.5,549.08 L534.5,549.08 L534.5,560.6 L604.5,560.6 L604.5,547.38 L674.5,547.38" fill="none" stroke="#ff0000" stroke-width="1.2"/>
<path d="M394.5,550.09 L464.5,550.09 L464.5,510.6 L534.5,510.6 L534.5,523.31 L604.5,523.31 L604.5,499.24 L674.5,499.24" fill="none" stroke="#c0141e" stroke-width="1.25" stroke-dasharray="1.9,1.9"/>
<path d="M464.5,582.3 L464.5,480.6 L467.1,480.6" fill="none" stroke="#000" stroke-width="1.4"/>
<path d="M467.1,477.4 L476.7,480.6 L467.1,483.8 Z" fill="#000"/>
<line x1="429.5" y1="441.45" x2="429.5" y2="533.99" stroke="#000" stroke-width="1.3"/>
<circle cx="429.5" cy="497.55" r="2.7" fill="#000"/>
<line x1="499.5" y1="504.33" x2="499.5" y2="570.1" stroke="#000" stroke-width="1.3"/>
<circle cx="499.5" cy="548.4" r="2.7" fill="#000"/>
<line x1="569.5" y1="504.33" x2="569.5" y2="570.1" stroke="#000" stroke-width="1.3"/>
<circle cx="569.5" cy="548.4" r="2.7" fill="#000"/>
<line x1="639.5" y1="504.33" x2="639.5" y2="570.1" stroke="#000" stroke-width="1.3"/>
<circle cx="639.5" cy="548.4" r="2.7" fill="#000"/>
<path d="M394.5,333 L394.5,582.3 L674.5,582.3" fill="none" stroke="#1a1a1a" stroke-width="1"/>
<path d="M674.5,333 L674.5,582.3" fill="none" stroke="#1a1a1a" stroke-width="1"/>
<line x1="394" y1="333.5" x2="675" y2="333.5" stroke="#1a1a1a" stroke-width="1"/>
<line x1="401.5" y1="582.3" x2="401.5" y2="578.6" stroke="#1a1a1a" stroke-width="0.9"/>
<line x1="401.5" y1="333.5" x2="401.5" y2="337.2" stroke="#1a1a1a" stroke-width="0.9"/>
<line x1="408.5" y1="582.3" x2="408.5" y2="578.6" stroke="#1a1a1a" stroke-width="0.9"/>
<line x1="408.5" y1="333.5" x2="408.5" y2="337.2" stroke="#1a1a1a" stroke-width="0.9"/>
<line x1="415.5" y1="582.3" x2="415.5" y2="578.6" stroke="#1a1a1a" stroke-width="0.9"/>
<line x1="415.5" y1="333.5" x2="415.5" y2="337.2" stroke="#1a1a1a" stroke-width="0.9"/>
<line x1="422.5" y1="582.3" x2="422.5" y2="578.6" stroke="#1a1a1a" stroke-width="0.9"/>
<line x1="422.5" y1="333.5" x2="422.5" y2="337.2" stroke="#1a1a1a" stroke-width="0.9"/>
<line x1="429.5" y1="582.3" x2="429.5" y2="575.3" stroke="#1a1a1a" stroke-width="0.9"/>
<line x1="429.5" y1="333.5" x2="429.5" y2="340.5" stroke="#1a1a1a" stroke-width="0.9"/>
<line x1="436.5" y1="582.3" x2="436.5" y2="578.6" stroke="#1a1a1a" stroke-width="0.9"/>
<line x1="436.5" y1="333.5" x2="436.5" y2="337.2" stroke="#1a1a1a" stroke-width="0.9"/>
<line x1="443.5" y1="582.3" x2="443.5" y2="578.6" stroke="#1a1a1a" stroke-width="0.9"/>
<line x1="443.5" y1="333.5" x2="443.5" y2="337.2" stroke="#1a1a1a" stroke-width="0.9"/>
<line x1="450.5" y1="582.3" x2="450.5" y2="578.6" stroke="#1a1a1a" stroke-width="0.9"/>
<line x1="450.5" y1="333.5" x2="450.5" y2="337.2" stroke="#1a1a1a" stroke-width="0.9"/>
<line x1="457.5" y1="582.3" x2="457.5" y2="578.6" stroke="#1a1a1a" stroke-width="0.9"/>
<line x1="457.5" y1="333.5" x2="457.5" y2="337.2" stroke="#1a1a1a" stroke-width="0.9"/>
<line x1="464.5" y1="582.3" x2="464.5" y2="575.3" stroke="#1a1a1a" stroke-width="0.9"/>
<line x1="464.5" y1="333.5" x2="464.5" y2="340.5" stroke="#1a1a1a" stroke-width="0.9"/>
<line x1="471.5" y1="582.3" x2="471.5" y2="578.6" stroke="#1a1a1a" stroke-width="0.9"/>
<line x1="471.5" y1="333.5" x2="471.5" y2="337.2" stroke="#1a1a1a" stroke-width="0.9"/>
<line x1="478.5" y1="582.3" x2="478.5" y2="578.6" stroke="#1a1a1a" stroke-width="0.9"/>
<line x1="478.5" y1="333.5" x2="478.5" y2="337.2" stroke="#1a1a1a" stroke-width="0.9"/>
<line x1="485.5" y1="582.3" x2="485.5" y2="578.6" stroke="#1a1a1a" stroke-width="0.9"/>
<line x1="485.5" y1="333.5" x2="485.5" y2="337.2" stroke="#1a1a1a" stroke-width="0.9"/>
<line x1="492.5" y1="582.3" x2="492.5" y2="578.6" stroke="#1a1a1a" stroke-width="0.9"/>
<line x1="492.5" y1="333.5" x2="492.5" y2="337.2" stroke="#1a1a1a" stroke-width="0.9"/>
<line x1="499.5" y1="582.3" x2="499.5" y2="575.3" stroke="#1a1a1a" stroke-width="0.9"/>
<line x1="499.5" y1="333.5" x2="499.5" y2="340.5" stroke="#1a1a1a" stroke-width="0.9"/>
<line x1="506.5" y1="582.3" x2="506.5" y2="578.6" stroke="#1a1a1a" stroke-width="0.9"/>
<line x1="506.5" y1="333.5" x2="506.5" y2="337.2" stroke="#1a1a1a" stroke-width="0.9"/>
<line x1="513.5" y1="582.3" x2="513.5" y2="578.6" stroke="#1a1a1a" stroke-width="0.9"/>
<line x1="513.5" y1="333.5" x2="513.5" y2="337.2" stroke="#1a1a1a" stroke-width="0.9"/>
<line x1="520.5" y1="582.3" x2="520.5" y2="578.6" stroke="#1a1a1a" stroke-width="0.9"/>
<line x1="520.5" y1="333.5" x2="520.5" y2="337.2" stroke="#1a1a1a" stroke-width="0.9"/>
<line x1="527.5" y1="582.3" x2="527.5" y2="578.6" stroke="#1a1a1a" stroke-width="0.9"/>
<line x1="527.5" y1="333.5" x2="527.5" y2="337.2" stroke="#1a1a1a" stroke-width="0.9"/>
<line x1="534.5" y1="582.3" x2="534.5" y2="575.3" stroke="#1a1a1a" stroke-width="0.9"/>
<line x1="534.5" y1="333.5" x2="534.5" y2="340.5" stroke="#1a1a1a" stroke-width="0.9"/>
<line x1="541.5" y1="582.3" x2="541.5" y2="578.6" stroke="#1a1a1a" stroke-width="0.9"/>
<line x1="541.5" y1="333.5" x2="541.5" y2="337.2" stroke="#1a1a1a" stroke-width="0.9"/>
<line x1="548.5" y1="582.3" x2="548.5" y2="578.6" stroke="#1a1a1a" stroke-width="0.9"/>
<line x1="548.5" y1="333.5" x2="548.5" y2="337.2" stroke="#1a1a1a" stroke-width="0.9"/>
<line x1="555.5" y1="582.3" x2="555.5" y2="578.6" stroke="#1a1a1a" stroke-width="0.9"/>
<line x1="555.5" y1="333.5" x2="555.5" y2="337.2" stroke="#1a1a1a" stroke-width="0.9"/>
<line x1="562.5" y1="582.3" x2="562.5" y2="578.6" stroke="#1a1a1a" stroke-width="0.9"/>
<line x1="562.5" y1="333.5" x2="562.5" y2="337.2" stroke="#1a1a1a" stroke-width="0.9"/>
<line x1="569.5" y1="582.3" x2="569.5" y2="575.3" stroke="#1a1a1a" stroke-width="0.9"/>
<line x1="569.5" y1="333.5" x2="569.5" y2="340.5" stroke="#1a1a1a" stroke-width="0.9"/>
<line x1="576.5" y1="582.3" x2="576.5" y2="578.6" stroke="#1a1a1a" stroke-width="0.9"/>
<line x1="576.5" y1="333.5" x2="576.5" y2="337.2" stroke="#1a1a1a" stroke-width="0.9"/>
<line x1="583.5" y1="582.3" x2="583.5" y2="578.6" stroke="#1a1a1a" stroke-width="0.9"/>
<line x1="583.5" y1="333.5" x2="583.5" y2="337.2" stroke="#1a1a1a" stroke-width="0.9"/>
<line x1="590.5" y1="582.3" x2="590.5" y2="578.6" stroke="#1a1a1a" stroke-width="0.9"/>
<line x1="590.5" y1="333.5" x2="590.5" y2="337.2" stroke="#1a1a1a" stroke-width="0.9"/>
<line x1="597.5" y1="582.3" x2="597.5" y2="578.6" stroke="#1a1a1a" stroke-width="0.9"/>
<line x1="597.5" y1="333.5" x2="597.5" y2="337.2" stroke="#1a1a1a" stroke-width="0.9"/>
<line x1="604.5" y1="582.3" x2="604.5" y2="575.3" stroke="#1a1a1a" stroke-width="0.9"/>
<line x1="604.5" y1="333.5" x2="604.5" y2="340.5" stroke="#1a1a1a" stroke-width="0.9"/>
<line x1="611.5" y1="582.3" x2="611.5" y2="578.6" stroke="#1a1a1a" stroke-width="0.9"/>
<line x1="611.5" y1="333.5" x2="611.5" y2="337.2" stroke="#1a1a1a" stroke-width="0.9"/>
<line x1="618.5" y1="582.3" x2="618.5" y2="578.6" stroke="#1a1a1a" stroke-width="0.9"/>
<line x1="618.5" y1="333.5" x2="618.5" y2="337.2" stroke="#1a1a1a" stroke-width="0.9"/>
<line x1="625.5" y1="582.3" x2="625.5" y2="578.6" stroke="#1a1a1a" stroke-width="0.9"/>
<line x1="625.5" y1="333.5" x2="625.5" y2="337.2" stroke="#1a1a1a" stroke-width="0.9"/>
<line x1="632.5" y1="582.3" x2="632.5" y2="578.6" stroke="#1a1a1a" stroke-width="0.9"/>
<line x1="632.5" y1="333.5" x2="632.5" y2="337.2" stroke="#1a1a1a" stroke-width="0.9"/>
<line x1="639.5" y1="582.3" x2="639.5" y2="575.3" stroke="#1a1a1a" stroke-width="0.9"/>
<line x1="639.5" y1="333.5" x2="639.5" y2="340.5" stroke="#1a1a1a" stroke-width="0.9"/>
<line x1="646.5" y1="582.3" x2="646.5" y2="578.6" stroke="#1a1a1a" stroke-width="0.9"/>
<line x1="646.5" y1="333.5" x2="646.5" y2="337.2" stroke="#1a1a1a" stroke-width="0.9"/>
<line x1="653.5" y1="582.3" x2="653.5" y2="578.6" stroke="#1a1a1a" stroke-width="0.9"/>
<line x1="653.5" y1="333.5" x2="653.5" y2="337.2" stroke="#1a1a1a" stroke-width="0.9"/>
<line x1="660.5" y1="582.3" x2="660.5" y2="578.6" stroke="#1a1a1a" stroke-width="0.9"/>
<line x1="660.5" y1="333.5" x2="660.5" y2="337.2" stroke="#1a1a1a" stroke-width="0.9"/>
<line x1="667.5" y1="582.3" x2="667.5" y2="578.6" stroke="#1a1a1a" stroke-width="0.9"/>
<line x1="667.5" y1="333.5" x2="667.5" y2="337.2" stroke="#1a1a1a" stroke-width="0.9"/>
<line x1="394.5" y1="573.5" x2="399.1" y2="573.5" stroke="#1a1a1a" stroke-width="0.9"/>
<line x1="674.5" y1="573.5" x2="669.9" y2="573.5" stroke="#1a1a1a" stroke-width="0.9"/>
<line x1="394.5" y1="565.5" x2="399.1" y2="565.5" stroke="#1a1a1a" stroke-width="0.9"/>
<line x1="674.5" y1="565.5" x2="669.9" y2="565.5" stroke="#1a1a1a" stroke-width="0.9"/>
<line x1="394.5" y1="556.5" x2="399.1" y2="556.5" stroke="#1a1a1a" stroke-width="0.9"/>
<line x1="674.5" y1="556.5" x2="669.9" y2="556.5" stroke="#1a1a1a" stroke-width="0.9"/>
<line x1="394.5" y1="548.5" x2="403.7" y2="548.5" stroke="#1a1a1a" stroke-width="0.9"/>
<line x1="674.5" y1="548.5" x2="665.3" y2="548.5" stroke="#1a1a1a" stroke-width="0.9"/>
<line x1="394.5" y1="539.5" x2="399.1" y2="539.5" stroke="#1a1a1a" stroke-width="0.9"/>
<line x1="674.5" y1="539.5" x2="669.9" y2="539.5" stroke="#1a1a1a" stroke-width="0.9"/>
<line x1="394.5" y1="531.5" x2="399.1" y2="531.5" stroke="#1a1a1a" stroke-width="0.9"/>
<line x1="674.5" y1="531.5" x2="669.9" y2="531.5" stroke="#1a1a1a" stroke-width="0.9"/>
<line x1="394.5" y1="522.5" x2="399.1" y2="522.5" stroke="#1a1a1a" stroke-width="0.9"/>
<line x1="674.5" y1="522.5" x2="669.9" y2="522.5" stroke="#1a1a1a" stroke-width="0.9"/>
<line x1="394.5" y1="514.5" x2="403.7" y2="514.5" stroke="#1a1a1a" stroke-width="0.9"/>
<line x1="674.5" y1="514.5" x2="665.3" y2="514.5" stroke="#1a1a1a" stroke-width="0.9"/>
<line x1="394.5" y1="506.5" x2="399.1" y2="506.5" stroke="#1a1a1a" stroke-width="0.9"/>
<line x1="674.5" y1="506.5" x2="669.9" y2="506.5" stroke="#1a1a1a" stroke-width="0.9"/>
<line x1="394.5" y1="497.5" x2="399.1" y2="497.5" stroke="#1a1a1a" stroke-width="0.9"/>
<line x1="674.5" y1="497.5" x2="669.9" y2="497.5" stroke="#1a1a1a" stroke-width="0.9"/>
<line x1="394.5" y1="489.5" x2="399.1" y2="489.5" stroke="#1a1a1a" stroke-width="0.9"/>
<line x1="674.5" y1="489.5" x2="669.9" y2="489.5" stroke="#1a1a1a" stroke-width="0.9"/>
<line x1="394.5" y1="480.5" x2="403.7" y2="480.5" stroke="#1a1a1a" stroke-width="0.9"/>
<line x1="674.5" y1="480.5" x2="665.3" y2="480.5" stroke="#1a1a1a" stroke-width="0.9"/>
<line x1="394.5" y1="472.5" x2="399.1" y2="472.5" stroke="#1a1a1a" stroke-width="0.9"/>
<line x1="674.5" y1="472.5" x2="669.9" y2="472.5" stroke="#1a1a1a" stroke-width="0.9"/>
<line x1="394.5" y1="463.5" x2="399.1" y2="463.5" stroke="#1a1a1a" stroke-width="0.9"/>
<line x1="674.5" y1="463.5" x2="669.9" y2="463.5" stroke="#1a1a1a" stroke-width="0.9"/>
<line x1="394.5" y1="455.5" x2="399.1" y2="455.5" stroke="#1a1a1a" stroke-width="0.9"/>
<line x1="674.5" y1="455.5" x2="669.9" y2="455.5" stroke="#1a1a1a" stroke-width="0.9"/>
<line x1="394.5" y1="446.5" x2="403.7" y2="446.5" stroke="#1a1a1a" stroke-width="0.9"/>
<line x1="674.5" y1="446.5" x2="665.3" y2="446.5" stroke="#1a1a1a" stroke-width="0.9"/>
<line x1="394.5" y1="438.5" x2="399.1" y2="438.5" stroke="#1a1a1a" stroke-width="0.9"/>
<line x1="674.5" y1="438.5" x2="669.9" y2="438.5" stroke="#1a1a1a" stroke-width="0.9"/>
<line x1="394.5" y1="429.5" x2="399.1" y2="429.5" stroke="#1a1a1a" stroke-width="0.9"/>
<line x1="674.5" y1="429.5" x2="669.9" y2="429.5" stroke="#1a1a1a" stroke-width="0.9"/>
<line x1="394.5" y1="421.5" x2="399.1" y2="421.5" stroke="#1a1a1a" stroke-width="0.9"/>
<line x1="674.5" y1="421.5" x2="669.9" y2="421.5" stroke="#1a1a1a" stroke-width="0.9"/>
<line x1="394.5" y1="412.5" x2="403.7" y2="412.5" stroke="#1a1a1a" stroke-width="0.9"/>
<line x1="674.5" y1="412.5" x2="665.3" y2="412.5" stroke="#1a1a1a" stroke-width="0.9"/>
<line x1="394.5" y1="404.5" x2="399.1" y2="404.5" stroke="#1a1a1a" stroke-width="0.9"/>
<line x1="674.5" y1="404.5" x2="669.9" y2="404.5" stroke="#1a1a1a" stroke-width="0.9"/>
<line x1="394.5" y1="395.5" x2="399.1" y2="395.5" stroke="#1a1a1a" stroke-width="0.9"/>
<line x1="674.5" y1="395.5" x2="669.9" y2="395.5" stroke="#1a1a1a" stroke-width="0.9"/>
<line x1="394.5" y1="387.5" x2="399.1" y2="387.5" stroke="#1a1a1a" stroke-width="0.9"/>
<line x1="674.5" y1="387.5" x2="669.9" y2="387.5" stroke="#1a1a1a" stroke-width="0.9"/>
<line x1="394.5" y1="378.5" x2="403.7" y2="378.5" stroke="#1a1a1a" stroke-width="0.9"/>
<line x1="674.5" y1="378.5" x2="665.3" y2="378.5" stroke="#1a1a1a" stroke-width="0.9"/>
<line x1="394.5" y1="370.5" x2="399.1" y2="370.5" stroke="#1a1a1a" stroke-width="0.9"/>
<line x1="674.5" y1="370.5" x2="669.9" y2="370.5" stroke="#1a1a1a" stroke-width="0.9"/>
<line x1="394.5" y1="361.5" x2="399.1" y2="361.5" stroke="#1a1a1a" stroke-width="0.9"/>
<line x1="674.5" y1="361.5" x2="669.9" y2="361.5" stroke="#1a1a1a" stroke-width="0.9"/>
<line x1="394.5" y1="353.5" x2="399.1" y2="353.5" stroke="#1a1a1a" stroke-width="0.9"/>
<line x1="674.5" y1="353.5" x2="669.9" y2="353.5" stroke="#1a1a1a" stroke-width="0.9"/>
<line x1="394.5" y1="345.5" x2="403.7" y2="345.5" stroke="#1a1a1a" stroke-width="0.9"/>
<line x1="674.5" y1="345.5" x2="665.3" y2="345.5" stroke="#1a1a1a" stroke-width="0.9"/>
<line x1="394.5" y1="336.5" x2="399.1" y2="336.5" stroke="#1a1a1a" stroke-width="0.9"/>
<line x1="674.5" y1="336.5" x2="669.9" y2="336.5" stroke="#1a1a1a" stroke-width="0.9"/>
<text x="394.5" y="593.9" font-size="12" text-anchor="middle">50</text>
<text x="429.5" y="593.9" font-size="12" text-anchor="middle">100</text>
<text x="464.5" y="593.9" font-size="12" text-anchor="middle">150</text>
<text x="499.5" y="593.9" font-size="12" text-anchor="middle">200</text>
<text x="534.5" y="593.9" font-size="12" text-anchor="middle">250</text>
<text x="569.5" y="593.9" font-size="12" text-anchor="middle">300</text>
<text x="604.5" y="593.9" font-size="12" text-anchor="middle">350</text>
<text x="639.5" y="593.9" font-size="12" text-anchor="middle">400</text>
<text x="674.5" y="593.9" font-size="12" text-anchor="middle">450</text>
<text x="391.9" y="552.7" font-size="12" text-anchor="end">2</text>
<text x="391.9" y="518.8" font-size="12" text-anchor="end">4</text>
<text x="391.9" y="484.9" font-size="12" text-anchor="end">6</text>
<text x="391.9" y="451" font-size="12" text-anchor="end">8</text>
<text x="391.9" y="417.1" font-size="12" text-anchor="end">10</text>
<text x="391.9" y="383.2" font-size="12" text-anchor="end">12</text>
<text x="391.9" y="349.3" font-size="12" text-anchor="end">14</text>
<text transform="translate(373.5,333.7) rotate(-90)" font-size="12.75" text-anchor="end">Events / 100 GeV</text>
<text x="627.7" y="604.8" font-size="12.3">p</text>
<text x="634.7" y="600.4" font-size="8.8">ll</text>
<text x="634.5" y="610.6" font-size="8.8">T</text>
<text x="674.7" y="604.8" font-size="12.3" text-anchor="end">[GeV]</text>
<text x="409.1" y="357.2" font-size="14" font-weight="bold" font-style="italic">ATLAS</text>
<text x="408.5" y="374.7" font-size="14.2">SR</text>
<text x="427.9" y="367.8" font-size="9">Z</text>
<text x="428.5" y="379.1" font-size="9">2B</text>
<path d="M539.9,351 L541.7,356.8 L543.3,345.3 L551.5,345.3" fill="none" stroke="#000" stroke-width="1"/>
<text x="544.3" y="357" font-size="13.5">s=13 TeV,</text>
<text x="611.9" y="357" font-size="13.5">139 fb</text>
<text x="648.9" y="351.3" font-size="9.2">-1</text>
<circle cx="518.9" cy="370.9" r="2.75" fill="#000"/>
<text x="542.5" y="374" font-size="11.3">Data</text>
<clipPath id="hc8"><rect x="501.7" y="379.5" width="34.2" height="11.6"/></clipPath>
<g clip-path="url(#hc8)"><path d="M534.2,378.5L536.9,381.2M530.2,378.5L536.9,385.2M526.2,378.5L536.9,389.2M522.2,378.5L535.8,392.1M518.2,378.5L531.8,392.1M514.2,378.5L527.8,392.1M510.2,378.5L523.8,392.1M506.2,378.5L519.8,392.1M502.2,378.5L515.8,392.1M500.7,381L511.8,392.1M500.7,385L507.8,392.1M500.7,389L503.8,392.1" stroke="#000" stroke-opacity="0.62" stroke-width="0.95" fill="none"/></g>
<line x1="501.7" y1="385.3" x2="535.9" y2="385.3" stroke="#ff0000" stroke-width="1.2"/>
<text x="542.5" y="388.7" font-size="11.3">Standard Model</text>
<rect x="501.7" y="394.3" width="34.2" height="11.6" fill="#ffff00"/>
<text x="542.5" y="403.5" font-size="11.3">FNP</text>
<rect x="501.7" y="409.1" width="34.2" height="11.6" fill="#0060c8"/>
<text x="542.5" y="418.3" font-size="11.3">Multi-boson</text>
<rect x="501.7" y="423.9" width="34.2" height="11.6" fill="#00ffcc"/>
<text x="542.5" y="433.1" font-size="11.3">tt<tspan>Z</tspan></text>
<line x1="546.1" y1="424.4" x2="549.1" y2="424.4" stroke="#000" stroke-width="0.8"/>
<rect x="501.7" y="438.7" width="34.2" height="11.6" fill="#cc3399"/>
<text x="542.5" y="447.9" font-size="11.3">tZ and tWZ</text>
<rect x="501.7" y="453.5" width="34.2" height="11.6" fill="#cccccc"/>
<text x="542.5" y="462.7" font-size="11.3">Others</text>
<line x1="501.7" y1="474.1" x2="535.9" y2="474.1" stroke="#c0141e" stroke-width="1.25" stroke-dasharray="1.9,1.9"/>
<text x="542.2" y="477.3" font-size="11.3">m(</text>
<text x="554.4" y="477.3" font-size="11.3">t</text>
<path d="M554.2,467.3 q1.5,-1.9 3,-0.45 t2.9,-0.45" fill="none" stroke="#000" stroke-width="0.8"/>
<text x="558.2" y="480.2" font-size="6.6">2</text>
<text x="562" y="477.3" font-size="11.3">) = 800, m(</text>
<text x="615" y="478.2" font-size="12.2" font-style="italic">&#967;</text>
<path d="M615.6,469.4 q1.4,-1.7 2.9,-0.4 t2.9,-0.4" fill="none" stroke="#000" stroke-width="0.75"/>
<text x="621.8" y="470.4" font-size="6.6">0</text>
<text x="621.8" y="482.5" font-size="6.6">1</text>
<text x="626.1" y="477.3" font-size="11.3">) = 400</text>
<text class="cap" x="165.2" y="303.6" font-size="16" text-anchor="middle">(a)</text>
<text class="cap" x="535.8" y="303.6" font-size="16" text-anchor="middle">(b)</text>
<text class="cap" x="164.8" y="624.0" font-size="16" text-anchor="middle">(c)</text>
<text class="cap" x="535.8" y="624.0" font-size="16" text-anchor="middle">(d)</text>
</svg></body></html>
